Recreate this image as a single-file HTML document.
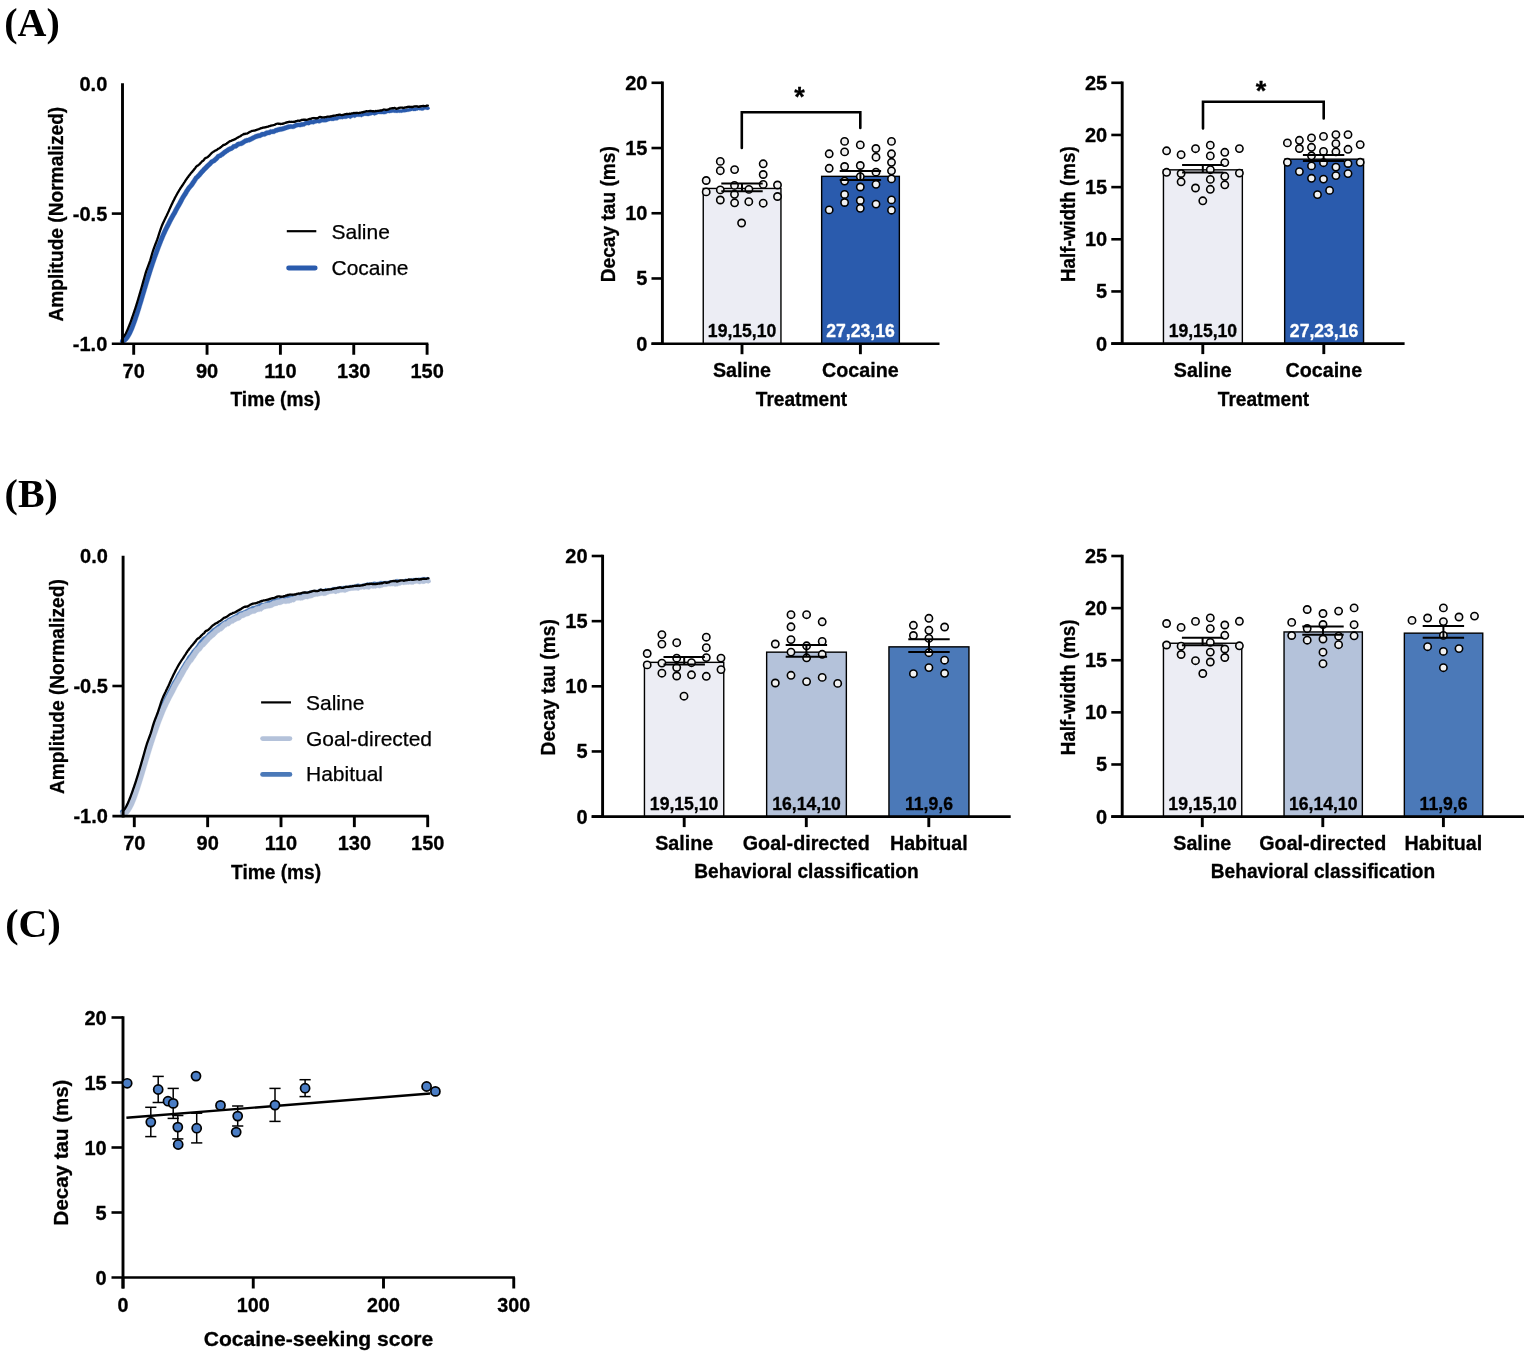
<!DOCTYPE html>
<html lang="en"><head><meta charset="utf-8"><title>Figure</title>
<style>html,body{margin:0;padding:0;background:#fff}svg{display:block;filter:blur(0.3px)}.b{font-family:"Liberation Sans",sans-serif;font-weight:bold}.r{font-family:"Liberation Sans",sans-serif;font-weight:normal}.s{font-family:"Liberation Serif",serif;font-weight:bold}</style></head><body>
<svg width="1535" height="1360" viewBox="0 0 1535 1360">
<rect width="1535" height="1360" fill="#fff"/>
<text class="s" x="4.3" y="36.2" font-size="40" text-anchor="start">(A)</text>
<text class="s" x="4.6" y="506.9" font-size="40" text-anchor="start">(B)</text>
<text class="s" x="5.2" y="937.3" font-size="40" text-anchor="start">(C)</text>
<path d="M123.11 343.41L123.8 343.24L124.48 342.98L125.15 342.62L125.9 342.12L126.62 341.53L127.29 340.87L127.94 340.15L128.57 339.36L129.19 338.5L129.79 337.58L130.38 336.6L130.97 335.55L131.55 334.44L132.12 333.27L132.69 332.05L133.26 330.76L133.82 329.43L134.38 328.04L134.94 326.61L135.5 325.12L136.06 323.59L136.62 322.02L137.17 320.42L137.73 318.78L138.28 317.11L138.84 315.42L139.39 313.7L139.94 311.95L140.49 310.19L141.05 308.41L141.6 306.61L142.15 304.8L142.7 302.98L143.25 301.15L143.8 299.31L144.35 297.46L144.9 295.61L145.45 293.76L146 291.91L146.55 290.06L147.1 288.22L147.65 286.38L148.2 284.55L148.75 282.73L149.3 280.93L149.85 279.15L150.39 277.38L150.94 275.63L151.49 273.9L152.04 272.18L152.59 270.49L153.13 268.81L153.68 267.14L154.23 265.5L154.78 263.87L155.32 262.26L155.87 260.67L156.42 259.09L156.97 257.53L157.51 255.97L158.06 254.43L158.61 252.91L159.16 251.41L159.7 249.94L160.25 248.48L160.79 247.05L161.34 245.64L161.88 244.24L162.43 242.88L162.97 241.53L163.52 240.21L164.06 238.89L164.61 237.62L165.15 236.34L165.69 235.12L166.24 233.92L166.78 232.78L167.32 231.56L167.87 230.47L168.41 229.32L168.96 228.27L169.5 227.19L170.05 226.13L170.59 225.07L171.14 223.96L171.68 222.86L172.23 221.8L172.78 220.76L173.33 219.83L173.87 218.77L174.42 217.82L174.97 216.83L175.52 215.78L176.06 214.94L176.61 213.98L177.16 212.93L177.71 211.84L178.26 210.78L178.8 209.78L179.35 208.87L179.9 207.79L180.45 206.88L180.99 205.88L181.54 204.96L182.09 203.91L182.64 202.93L183.18 201.9L183.73 200.79L184.28 199.78L184.82 198.86L185.37 197.88L185.92 197.06L186.46 196.28L187.01 195.51L187.55 194.55L188.09 193.69L188.63 192.57L189.18 191.75L189.72 191.11L190.26 190.12L190.8 189.48L191.34 188.66L191.88 187.99L192.43 187.61L192.97 187.02L193.51 186.29L194.05 185.4L194.59 184.63L195.14 183.78L195.68 183.11L196.22 182.28L196.76 181.34L197.3 180.52L197.85 179.54L198.39 179.02L198.93 178.7L199.47 178.17L200.02 177.49L200.56 177.08L201.1 176.47L201.64 175.65L202.18 175.21L202.71 174.42L203.25 173.88L203.79 173.16L204.33 172.76L204.86 172.13L205.4 171.54L205.94 170.88L206.48 170.48L207.01 169.8L207.55 169.42L208.09 168.95L208.63 168.15L209.16 167.73L209.7 167.23L210.24 166.71L210.78 166.33L211.32 165.87L211.86 165.18L212.39 164.5L212.93 164.08L213.47 163.41L214.01 163.29L214.55 162.99L215.09 162.77L215.63 162.47L216.17 161.81L216.71 161.51L217.25 161.01L217.79 160.57L218.33 160.03L218.87 159.26L219.41 158.39L219.95 158.1L220.49 157.96L221.03 157.8L221.58 157.5L222.12 157.26L222.66 156.58L223.21 156.51L223.75 156.04L224.29 155.58L224.83 155.23L225.38 154.78L225.92 154.06L226.46 153.91L227 153.55L227.54 153.02L228.08 152.87L228.62 152.48L229.16 151.99L229.69 151.85L230.23 151.28L230.77 151.17L231.3 150.91L231.84 150.66L232.37 150.59L232.91 150.26L233.45 149.74L233.98 149.58L234.52 148.85L235.06 148.51L235.6 148.5L236.14 148.43L236.68 148.19L237.22 147.93L237.76 147.42L238.31 147.07L238.85 146.54L239.39 146.24L239.93 146.21L240.47 145.94L241.02 145.85L241.56 145.92L242.1 145.46L242.64 145.42L243.19 145.18L243.73 144.74L244.27 144.46L244.81 144.12L245.36 143.78L245.9 143.23L246.44 143.03L246.98 142.9L247.53 142.73L248.07 142.5L248.61 142.28L249.15 142.35L249.7 142.37L250.24 141.97L250.78 141.75L251.32 141.42L251.87 141.16L252.41 141.04L252.95 140.56L253.5 140.39L254.04 140.06L254.58 139.8L255.12 139.65L255.67 139.07L256.21 139.05L256.76 138.64L257.3 138.6L257.85 138.48L258.39 138.27L258.94 138.05L259.48 138.12L260.03 137.78L260.58 137.89L261.12 137.6L261.67 137.3L262.22 137.07L262.76 136.7L263.31 136.47L263.85 136.39L264.4 136.4L264.95 136.52L265.49 136.29L266.04 135.94L266.58 135.81L267.12 135.14L267.67 135.2L268.21 135.06L268.76 135.08L269.3 135.08L269.85 134.85L270.39 134.64L270.93 134.19L271.48 133.94L272.02 133.71L272.57 133.96L273.11 134L273.66 133.86L274.2 133.85L274.75 133.72L275.29 133.27L275.84 132.97L276.38 132.79L276.93 132.57L277.47 132.53L278.02 132.21L278.56 132.03L279.11 132.04L279.65 131.7L280.2 131.76L280.74 131.57L281.29 131.39L281.83 131.43L282.38 131.16L282.92 131.22L283.47 131.07L284.01 130.77L284.56 130.67L285.1 130.58L285.65 130.29L286.2 130.07L286.74 129.9L287.29 129.73L287.83 129.5L288.38 129.41L288.92 129.01L289.47 129.02L290.02 129L290.56 128.85L291.11 128.82L291.65 128.72L292.2 129L292.75 128.78L293.29 128.83L293.84 128.87L294.39 128.41L294.93 128.47L295.48 127.96L296.03 127.68L296.57 127.51L297.12 127.22L297.67 127.14L298.22 127.02L298.76 127.08L299.31 127.06L299.86 127.2L300.41 127.09L300.95 127.15L301.5 126.85L302.05 126.67L302.6 126.68L303.14 126.45L303.69 126.45L304.24 126.6L304.79 126.13L305.33 125.82L305.88 125.51L306.43 125.2L306.97 125.11L307.52 125.1L308.07 125.19L308.62 125.21L309.16 125.09L309.71 124.91L310.26 124.5L310.8 124.2L311.35 124.2L311.9 124.02L312.45 124.12L312.99 124.44L313.54 124.23L314.09 124.14L314.63 123.69L315.18 123.61L315.73 123.55L316.28 123.26L316.82 123.29L317.37 123.12L317.92 123.03L318.47 123.33L319.01 123.21L319.56 123.34L320.11 123.29L320.66 122.86L321.2 122.71L321.75 122.3L322.3 122.13L322.85 122.14L323.39 122.33L323.94 122.36L324.49 122.32L325.04 122.19L325.58 122.18L326.13 122.23L326.68 121.94L327.23 121.69L327.77 121.73L328.32 121.15L328.87 121.24L329.42 121.05L329.97 121.03L330.51 120.64L331.06 120.71L331.61 121L332.16 120.83L332.7 120.98L333.25 121.02L333.8 120.74L334.35 120.51L334.9 120.47L335.44 120.15L335.99 120.46L336.54 120.35L337.09 120.14L337.64 120.31L338.18 119.79L338.73 119.59L339.28 119.33L339.83 119.04L340.38 119.18L340.92 119.04L341.47 119.11L342.02 119.31L342.57 119.14L343.12 118.9L343.67 118.82L344.21 118.84L344.76 118.66L345.31 118.85L345.86 118.79L346.41 118.71L346.96 118.46L347.5 118.24L348.05 117.93L348.6 117.94L349.15 118.18L349.7 118.45L350.25 118.71L350.79 118.67L351.34 118.26L351.89 117.83L352.44 117.63L352.99 117.23L353.54 117.35L354.08 117.73L354.63 117.81L355.18 117.61L355.73 117.38L356.28 117.07L356.83 116.84L357.38 116.68L357.93 116.67L358.48 116.81L359.03 116.81L359.58 116.77L360.13 116.83L360.67 116.86L361.22 117.12L361.77 117.13L362.32 116.6L362.87 116.5L363.42 116.23L363.97 116.04L364.52 115.76L365.07 115.88L365.62 115.69L366.17 115.69L366.72 115.91L367.27 116.01L367.81 116.09L368.36 116.1L368.91 115.92L369.46 115.69L370.01 115.38L370.56 115.46L371.11 115.31L371.66 115.15L372.21 114.89L372.75 114.7L373.3 114.97L373.85 115.16L374.4 115.55L374.95 115.5L375.5 115.05L376.05 115.01L376.6 114.7L377.15 114.45L377.7 114.2L378.24 114.04L378.79 113.91L379.34 114.08L379.89 114.07L380.44 113.94L380.99 114.19L381.54 114.09L382.09 114.06L382.64 114.07L383.19 114.19L383.74 114.1L384.29 114.14L384.84 113.93L385.38 114.11L385.93 113.83L386.48 113.8L387.03 113.3L387.58 113.1L388.13 113.03L388.67 112.99L389.22 113.04L389.77 113.19L390.32 112.87L390.86 112.93L391.41 112.75L391.96 112.64L392.51 112.47L393.06 112.55L393.61 112.58L394.15 112.7L394.7 112.68L395.25 112.7L395.8 112.85L396.35 112.79L396.9 112.88L397.45 112.86L398 112.71L398.55 112.6L399.1 112.72L399.65 112.81L400.2 112.58L400.75 112.72L401.3 112.69L401.85 112.67L402.4 112.51L402.95 112.28L403.5 112.19L404.05 112.39L404.6 112.18L405.15 112.06L405.7 112.31L406.25 111.98L406.8 111.92L407.35 111.82L407.9 111.69L408.45 111.74L409 111.48L409.55 111.4L410.1 111.27L410.65 111.29L411.2 110.88L411.75 110.95L412.3 110.76L412.85 110.84L413.4 111.08L413.95 111.08L414.5 110.94L415.05 110.97L415.6 110.93L416.15 110.68L416.71 110.49L417.26 110.48L417.81 110.41L418.36 110.02L418.91 110.04L419.46 110.32L420.01 110.36L420.56 110.15L421.11 110.39L421.66 110.52L422.21 110.5L422.76 110.61L423.31 110.46L423.86 110.09L424.41 109.8L424.96 109.47L425.51 109.57L426.06 109.47L426.61 109.72L427.16 109.73L427.71 109.74L428.26 109.81L427.94 106.53L427.39 106.45L426.84 106.44L426.29 106.44L425.74 106.19L425.19 106.29L424.64 106.19L424.09 106.52L423.54 106.8L422.99 107.18L422.44 107.33L421.89 107.21L421.34 107.24L420.79 107.1L420.24 106.87L419.69 107.07L419.14 107.03L418.59 106.75L418.04 106.74L417.49 107.12L416.94 107.2L416.39 107.21L415.85 107.4L415.3 107.65L414.75 107.69L414.2 107.66L413.65 107.79L413.1 107.8L412.55 107.56L412 107.47L411.45 107.66L410.9 107.59L410.35 108L409.8 107.98L409.25 108.11L408.7 108.2L408.15 108.45L407.6 108.41L407.05 108.54L406.5 108.63L405.95 108.69L405.4 109.02L404.85 108.78L404.3 108.9L403.75 109.1L403.2 108.9L402.65 109L402.1 109.22L401.55 109.39L401 109.4L400.45 109.43L399.9 109.3L399.35 109.52L398.8 109.44L398.25 109.32L397.7 109.43L397.15 109.58L396.6 109.6L396.05 109.5L395.5 109.56L394.95 109.42L394.4 109.4L393.85 109.41L393.29 109.3L392.74 109.26L392.19 109.19L391.64 109.35L391.09 109.47L390.54 109.64L389.98 109.59L389.43 109.9L388.88 109.75L388.33 109.69L387.77 109.73L387.22 109.78L386.67 109.98L386.12 110.47L385.57 110.49L385.02 110.76L384.46 110.58L383.91 110.79L383.36 110.74L382.81 110.83L382.26 110.7L381.71 110.67L381.16 110.71L380.61 110.79L380.06 110.54L379.51 110.66L378.96 110.67L378.41 110.49L377.86 110.61L377.3 110.76L376.75 111.01L376.2 111.25L375.65 111.55L375.1 111.59L374.55 112.02L374 112.08L373.45 111.67L372.9 111.48L372.35 111.2L371.79 111.39L371.24 111.63L370.69 111.79L370.14 111.94L369.59 111.84L369.04 112.15L368.49 112.38L367.94 112.55L367.39 112.53L366.83 112.45L366.28 112.33L365.73 112.11L365.18 112.11L364.63 112.28L364.08 112.16L363.53 112.43L362.98 112.61L362.43 112.88L361.88 112.97L361.33 113.49L360.78 113.48L360.23 113.21L359.67 113.17L359.12 113.1L358.57 113.14L358.02 113.13L357.47 112.99L356.92 112.99L356.37 113.14L355.82 113.37L355.27 113.67L354.72 113.89L354.17 114.08L353.62 114L353.06 113.61L352.51 113.49L351.96 113.87L351.41 114.07L350.86 114.49L350.31 114.9L349.75 114.94L349.2 114.66L348.65 114.39L348.1 114.14L347.55 114.13L347 114.43L346.44 114.64L345.89 114.89L345.34 114.96L344.79 115.01L344.24 114.81L343.69 114.99L343.13 114.96L342.58 115.03L342.03 115.27L341.48 115.43L340.93 115.23L340.38 115.15L339.82 115.28L339.27 115.13L338.72 115.42L338.17 115.68L337.62 115.87L337.06 116.38L336.51 116.21L335.96 116.41L335.41 116.51L334.86 116.19L334.3 116.51L333.75 116.54L333.2 116.77L332.65 117.04L332.1 116.99L331.54 116.84L330.99 117L330.44 116.71L329.89 116.63L329.33 117.01L328.78 117.02L328.23 117.21L327.68 117.11L327.13 117.68L326.57 117.64L326.02 117.88L325.47 118.17L324.92 118.11L324.36 118.12L323.81 118.24L323.26 118.27L322.71 118.23L322.15 118.04L321.6 118.03L321.05 118.19L320.5 118.59L319.94 118.73L319.39 119.16L318.84 119.2L318.29 119.07L317.73 119.18L317.18 118.87L316.63 118.96L316.08 119.13L315.52 119.08L314.97 119.37L314.42 119.42L313.87 119.5L313.31 119.93L312.76 120.02L312.21 120.23L311.65 119.9L311.1 119.8L310.55 119.97L310 119.96L309.44 120.26L308.89 120.66L308.34 120.84L307.78 120.94L307.23 120.92L306.68 120.83L306.13 120.83L305.57 120.92L305.02 121.22L304.47 121.52L303.91 121.82L303.36 122.29L302.81 122.13L302.26 122.13L301.7 122.36L301.15 122.33L300.6 122.51L300.05 122.8L299.49 122.74L298.94 122.85L298.39 122.7L297.84 122.71L297.28 122.64L296.73 122.75L296.18 122.84L295.63 123.11L295.07 123.28L294.52 123.55L293.97 124.05L293.41 123.99L292.86 124.45L292.31 124.4L291.75 124.35L291.2 124.56L290.65 124.28L290.09 124.37L289.54 124.39L288.98 124.53L288.43 124.55L287.88 124.54L287.32 124.93L286.77 125.01L286.21 125.24L285.66 125.4L285.1 125.57L284.55 125.78L284 126.07L283.44 126.16L282.89 126.25L282.33 126.55L281.78 126.69L281.22 126.63L280.67 126.89L280.11 126.85L279.56 127.03L279 127.21L278.45 127.16L277.89 127.5L277.34 127.49L276.78 127.68L276.23 127.99L275.67 128.04L275.12 128.27L274.56 128.44L274.01 128.75L273.45 129.2L272.9 129.33L272.34 129.35L271.79 129.49L271.23 129.45L270.68 129.21L270.12 129.44L269.57 129.69L269.01 130.14L268.45 130.36L267.9 130.59L267.34 130.59L266.79 130.58L266.23 130.72L265.68 130.67L265.12 131.34L264.56 131.47L264.01 131.83L263.45 132.06L262.9 131.95L262.35 131.94L261.79 132.02L261.24 132.26L260.68 132.62L260.13 132.86L259.58 133.16L259.02 133.45L258.47 133.35L257.92 133.69L257.36 133.62L256.81 133.84L256.25 134.06L255.7 134.18L255.14 134.23L254.59 134.64L254.03 134.66L253.48 135.24L252.92 135.4L252.36 135.67L251.8 136.01L251.25 136.18L250.69 136.66L250.13 136.8L249.58 137.06L249.02 137.39L248.46 137.62L247.9 138.03L247.35 138.01L246.79 137.95L246.23 138.18L245.67 138.41L245.12 138.59L244.56 138.72L244 138.92L243.44 139.48L242.89 139.84L242.33 140.18L241.77 140.47L241.21 140.92L240.66 141.16L240.1 141.21L239.54 141.67L238.98 141.62L238.43 141.71L237.87 141.99L237.31 142.02L236.75 142.33L236.19 142.87L235.64 143.23L235.08 143.75L234.52 144.01L233.96 144.27L233.4 144.34L232.84 144.37L232.28 144.72L231.72 145.47L231.15 145.64L230.59 146.17L230.03 146.52L229.46 146.61L228.9 146.87L228.33 147.14L227.77 147.27L227.21 147.86L226.64 148.01L226.08 148.52L225.52 148.93L224.96 149.09L224.4 149.64L223.84 150.01L223.28 150.17L222.72 150.9L222.17 151.36L221.61 151.72L221.05 152.19L220.49 152.67L219.94 152.75L219.38 153.44L218.82 153.69L218.27 154L217.71 154.18L217.15 154.32L216.59 154.63L216.03 155.51L215.47 156.29L214.91 156.85L214.35 157.3L213.79 157.82L213.23 158.14L212.67 158.81L212.11 159.13L211.55 159.37L210.99 159.68L210.43 159.83L209.87 160.51L209.31 160.96L208.74 161.66L208.18 162.37L207.62 162.85L207.06 163.25L206.5 163.79L205.94 164.32L205.37 164.76L204.81 165.59L204.25 166.08L203.69 166.48L203.12 167.19L202.56 167.61L202 168.29L201.44 168.91L200.87 169.58L200.31 170L199.75 170.75L199.19 171.32L198.62 172.14L198.06 172.59L197.5 173.45L196.94 174.08L196.38 174.5L195.83 175.21L195.27 175.75L194.71 176.09L194.15 176.63L193.6 177.64L193.04 178.47L192.48 179.44L191.92 180.29L191.36 180.98L190.81 181.85L190.25 182.64L189.69 183.55L189.13 184.3L188.57 184.92L188.02 185.32L187.46 186.02L186.9 186.86L186.34 187.53L185.78 188.54L185.22 189.21L184.67 190.06L184.11 191.2L183.55 192.08L182.99 193.06L182.44 193.85L181.88 194.65L181.33 195.48L180.78 196.48L180.22 197.41L179.67 198.42L179.12 199.54L178.56 200.58L178.01 201.57L177.46 202.63L176.91 203.56L176.35 204.57L175.8 205.49L175.25 206.57L174.7 207.49L174.14 208.5L173.59 209.57L173.04 210.67L172.49 211.73L171.94 212.7L171.38 213.55L170.83 214.6L170.28 215.61L169.73 216.56L169.17 217.62L168.62 218.57L168.07 219.62L167.52 220.69L166.96 221.8L166.41 222.94L165.85 224.01L165.3 225.09L164.74 226.19L164.19 227.26L163.63 228.44L163.08 229.54L162.52 230.79L161.96 231.96L161.41 233.19L160.85 234.44L160.29 235.75L159.74 237.05L159.18 238.4L158.63 239.75L158.07 241.12L157.52 242.51L156.96 243.93L156.41 245.37L155.85 246.82L155.3 248.29L154.74 249.79L154.19 251.31L153.64 252.85L153.09 254.4L152.53 255.97L151.98 257.54L151.43 259.13L150.88 260.74L150.32 262.37L149.77 264.01L149.22 265.67L148.67 267.34L148.11 269.04L147.56 270.75L147.01 272.47L146.46 274.22L145.91 275.98L145.35 277.76L144.8 279.55L144.25 281.37L143.7 283.19L143.15 285.03L142.6 286.87L142.05 288.72L141.5 290.57L140.95 292.42L140.4 294.27L139.85 296.12L139.3 297.96L138.75 299.8L138.2 301.62L137.65 303.44L137.1 305.24L136.55 307.02L136.01 308.79L135.46 310.54L134.91 312.26L134.36 313.96L133.82 315.64L133.27 317.28L132.73 318.89L132.18 320.46L131.64 322L131.1 323.48L130.56 324.92L130.02 326.3L129.48 327.63L128.94 328.89L128.41 330.1L127.88 331.24L127.35 332.31L126.83 333.31L126.32 334.24L125.81 335.08L125.31 335.85L124.83 336.53L124.36 337.12L123.91 337.61L123.48 338.02L123.1 338.35L122.75 338.58L122.32 338.81L121.9 338.95L121.49 339Z" fill="#2a5bad" stroke="#2a5bad" stroke-width="0.3" stroke-linejoin="round"/>
<circle cx="122.3" cy="341.21" r="2.35" fill="#2a5bad"/>
<circle cx="428.1" cy="108.17" r="1.65" fill="#2a5bad"/>
<path d="M122.6 337.79L123.15 337.3L123.7 336.69L124.25 335.97L124.8 335.15L125.35 334.22L125.9 333.19L126.45 332.08L127 330.89L127.55 329.66L128.1 328.37L128.65 327.04L129.2 325.67L129.75 324.25L130.3 322.8L130.85 321.31L131.4 319.79L131.95 318.25L132.5 316.68L133.05 315.09L133.6 313.49L134.15 311.87L134.7 310.23L135.25 308.55L135.8 306.84L136.35 305.09L136.9 303.33L137.45 301.53L138 299.72L138.55 297.88L139.1 296.03L139.65 294.16L140.2 292.27L140.75 290.38L141.3 288.46L141.85 286.53L142.4 284.59L142.95 282.64L143.5 280.68L144.05 278.71L144.6 276.74L145.15 274.8L145.7 272.93L146.25 271.17L146.8 269.55L147.35 268.03L147.9 266.58L148.45 265.15L149 263.7L149.55 262.18L150.1 260.56L150.65 258.79L151.2 256.9L151.75 254.95L152.3 253.05L152.85 251.26L153.4 249.61L153.95 248.06L154.5 246.59L155.05 245.17L155.6 243.78L156.15 242.38L156.7 240.93L157.25 239.43L157.8 237.82L158.35 236.15L158.9 234.44L159.45 232.71L160 231.01L160.55 229.38L161.1 227.83L161.65 226.37L162.2 225.05L162.75 223.77L163.3 222.54L163.85 221.39L164.4 220.2L164.95 219.09L165.5 217.9L166.05 216.76L166.6 215.67L167.15 214.45L167.7 213.35L168.25 212.14L168.8 210.93L169.35 209.64L169.9 208.4L170.45 207.17L171 206.05L171.55 204.83L172.1 203.7L172.65 202.55L173.2 201.34L173.75 200.32L174.3 199.18L174.85 198.09L175.4 196.99L175.95 196.04L176.5 194.96L177.05 193.95L177.6 192.92L178.15 192.05L178.7 191.18L179.25 190.21L179.8 189.38L180.35 188.45L180.9 187.58L181.45 186.78L182 186.09L182.55 185.18L183.1 184.45L183.65 183.49L184.2 182.57L184.75 181.83L185.3 180.99L185.85 179.94L186.4 179.34L186.95 178.4L187.5 177.64L188.05 177.12L188.6 176.11L189.15 175.43L189.7 174.94L190.25 174.07L190.8 173.33L191.35 172.72L191.9 172.12L192.45 171.63L193 170.7L193.55 170.28L194.1 169.4L194.65 168.91L195.2 168.19L195.75 167.28L196.3 166.59L196.85 166.14L197.4 165.67L197.95 165.53L198.5 165L199.05 164.53L199.6 164.24L200.15 163.38L200.7 162.87L201.25 162.26L201.8 161.72L202.35 161.14L202.9 160.96L203.45 160.43L204 159.8L204.55 158.88L205.1 158.3L205.65 158L206.2 157.89L206.75 157.51L207.3 157.34L207.85 156.99L208.4 156.36L208.95 155.97L209.5 155.41L210.05 154.83L210.6 154.12L211.15 153.54L211.7 153.14L212.25 152.44L212.8 152.15L213.35 151.8L213.9 151.56L214.45 151.05L215 150.74L215.55 150.46L216.1 150.18L216.65 150.04L217.2 149.67L217.75 149.08L218.3 148.72L218.85 148.45L219.4 148.16L219.95 147.87L220.5 147.46L221.05 146.99L221.6 146.56L222.15 146L222.7 145.67L223.25 145.13L223.8 144.91L224.35 144.89L224.9 144.56L225.45 144.44L226 143.96L226.55 143.72L227.1 143.11L227.65 142.83L228.2 142.51L228.75 141.84L229.3 141.73L229.85 141.13L230.4 141.12L230.95 140.98L231.5 140.71L232.05 140.32L232.6 140.04L233.15 139.99L233.7 139.93L234.25 139.47L234.8 139.39L235.35 138.84L235.9 138.82L236.45 138.19L237 137.92L237.55 137.76L238.1 137.36L238.65 137.09L239.2 136.83L239.75 136.57L240.3 136.32L240.85 135.83L241.4 135.5L241.95 135L242.5 134.78L243.05 134.46L243.6 134.14L244.15 133.9L244.7 134.05L245.25 133.87L245.8 133.72L246.35 133.65L246.9 133.7L247.45 133.38L248 133.02L248.55 132.67L249.1 132.32L249.65 131.93L250.2 131.86L250.75 131.5L251.3 131.28L251.85 130.91L252.4 130.92L252.95 130.76L253.5 130.67L254.05 130.6L254.6 130.65L255.15 130.36L255.7 130.21L256.25 130.12L256.8 129.8L257.35 129.53L257.9 129.52L258.45 129.29L259 129.08L259.55 128.75L260.1 128.57L260.65 128.38L261.2 128.07L261.75 128.02L262.3 127.87L262.85 127.64L263.4 127.58L263.95 127.5L264.5 127.49L265.05 127.4L265.6 127.11L266.15 127.17L266.7 126.9L267.25 126.78L267.8 126.71L268.35 126.63L268.9 126.16L269.45 126.18L270 126.05L270.55 125.68L271.1 125.65L271.65 125.56L272.2 125.3L272.75 125.31L273.3 125.23L273.85 125.01L274.4 124.84L274.95 124.6L275.5 124.36L276.05 124.04L276.6 123.79L277.15 123.7L277.7 123.58L278.25 123.68L278.8 123.83L279.35 123.67L279.9 123.97L280.45 124.02L281 123.87L281.55 123.91L282.1 123.76L282.65 123.85L283.2 123.39L283.75 123.5L284.3 123.23L284.85 122.97L285.4 122.69L285.95 122.76L286.5 122.62L287.05 122.17L287.6 122.24L288.15 122.1L288.7 121.87L289.25 121.81L289.8 121.72L290.35 121.9L290.9 121.92L291.45 121.75L292 121.95L292.55 121.87L293.1 121.84L293.65 121.86L294.2 121.64L294.75 121.76L295.3 121.64L295.85 121.19L296.4 121.21L296.95 120.99L297.5 120.74L298.05 120.72L298.6 120.72L299.15 120.9L299.7 120.65L300.25 120.6L300.8 120.41L301.35 119.99L301.9 119.93L302.45 119.77L303 119.85L303.55 119.63L304.1 119.65L304.65 119.76L305.2 119.71L305.75 119.86L306.3 119.79L306.85 119.87L307.4 119.71L307.95 119.52L308.5 119.39L309.05 119.08L309.6 118.94L310.15 118.95L310.7 118.8L311.25 118.6L311.8 118.4L312.35 118.23L312.9 118.03L313.45 118.2L314 117.97L314.55 118.19L315.1 118.13L315.65 118.3L316.2 118.27L316.75 118.39L317.3 118.14L317.85 118.13L318.4 117.8L318.95 117.35L319.5 117.06L320.05 116.88L320.6 117.1L321.15 117.07L321.7 117.39L322.25 117.45L322.8 117.34L323.35 117.31L323.9 117.38L324.45 117.29L325 117.17L325.55 117.17L326.1 117.03L326.65 116.89L327.2 116.71L327.75 116.69L328.3 116.69L328.85 116.71L329.4 116.64L329.95 116.48L330.5 116.6L331.05 116.32L331.6 116.29L332.15 115.99L332.7 115.96L333.25 115.93L333.8 115.64L334.35 115.54L334.9 115.64L335.45 115.53L336 115.37L336.55 115.14L337.1 115.17L337.65 115.04L338.2 114.86L338.75 114.84L339.3 114.57L339.85 114.61L340.4 114.84L340.95 114.97L341.5 115.05L342.05 115.17L342.6 114.98L343.15 114.83L343.7 114.67L344.25 114.43L344.8 114.33L345.35 114.16L345.9 114.09L346.45 113.95L347 114L347.55 114L348.1 114.04L348.65 113.95L349.2 113.79L349.75 113.69L350.3 113.78L350.85 113.75L351.4 113.54L351.95 113.3L352.5 113.43L353.05 113.22L353.6 113.15L354.15 112.94L354.7 113.03L355.25 113.07L355.8 112.95L356.35 112.92L356.9 113.02L357.45 112.78L358 112.91L358.55 113.02L359.1 112.89L359.65 112.74L360.2 112.77L360.75 112.67L361.3 112.47L361.85 112.38L362.4 112.5L362.95 112.18L363.5 112L364.05 112.11L364.6 111.81L365.15 111.56L365.7 111.42L366.25 111.39L366.8 111.18L367.35 111.35L367.9 111.36L368.45 111.36L369 111.08L369.55 111.12L370.1 110.91L370.65 111.01L371.2 110.93L371.75 111.2L372.3 111.28L372.85 111.13L373.4 111.12L373.95 111.39L374.5 111.32L375.05 111.34L375.6 110.98L376.15 111.2L376.7 111.02L377.25 110.84L377.8 110.82L378.35 110.87L378.9 110.82L379.45 110.55L380 110.64L380.55 110.43L381.1 110.65L381.65 110.34L382.2 110.27L382.75 109.98L383.3 109.71L383.85 109.52L384.4 109.72L384.95 109.7L385.5 109.82L386.05 110.03L386.6 109.8L387.15 109.83L387.7 109.54L388.25 109.54L388.8 109.31L389.35 108.93L389.9 108.63L390.45 108.56L391 108.52L391.55 108.3L392.1 108.26L392.65 108.14L393.2 108.27L393.75 108.32L394.3 108.02L394.85 108L395.4 108.4L395.95 108.6L396.5 108.82L397.05 108.69L397.6 108.39L398.15 108.36L398.7 107.9L399.25 107.95L399.8 107.64L400.35 107.65L400.9 107.59L401.45 107.55L402 107.57L402.55 107.7L403.1 108L403.65 107.87L404.2 107.78L404.75 107.52L405.3 107.56L405.85 107.29L406.4 107.25L406.95 107.23L407.5 107.13L408.05 106.72L408.6 106.96L409.15 106.96L409.7 106.75L410.25 106.79L410.8 106.93L411.35 107.11L411.9 106.99L412.45 107.13L413 106.93L413.55 106.57L414.1 106.69L414.65 106.29L415.2 106.32L415.75 106.49L416.3 106.27L416.85 106.42L417.4 106.42L417.95 106.63L418.5 106.85L419.05 106.87L419.6 106.45L420.15 106.35L420.7 106.51L421.25 106.13L421.8 106.14L422.35 106.01L422.9 105.92L423.45 105.87L424 106.09L424.55 106.14L425.1 106.13L425.65 106.12L426.2 105.9L426.75 105.64L427.3 105.56L427.85 105.63" fill="none" stroke="#000" stroke-width="2.3" stroke-linejoin="round" stroke-linecap="round"/>
<line x1="122.5" y1="83.3" x2="122.5" y2="345.05" stroke="#000" stroke-width="2.9" stroke-linecap="butt"/>
<line x1="111.8" y1="343.75" x2="428.3" y2="343.75" stroke="#000" stroke-width="2.6" stroke-linecap="butt"/>
<line x1="111.8" y1="213.6" x2="122.5" y2="213.6" stroke="#000" stroke-width="2.6" stroke-linecap="butt"/>
<line x1="133.7" y1="343.75" x2="133.7" y2="354.75" stroke="#000" stroke-width="2.9" stroke-linecap="butt"/>
<text class="b" x="133.7" y="377.95" font-size="20" text-anchor="middle" stroke="#000" stroke-width="0.3" stroke-linejoin="round">70</text>
<line x1="207.05" y1="343.75" x2="207.05" y2="354.75" stroke="#000" stroke-width="2.9" stroke-linecap="butt"/>
<text class="b" x="207.05" y="377.95" font-size="20" text-anchor="middle" stroke="#000" stroke-width="0.3" stroke-linejoin="round">90</text>
<line x1="280.4" y1="343.75" x2="280.4" y2="354.75" stroke="#000" stroke-width="2.9" stroke-linecap="butt"/>
<text class="b" x="280.4" y="377.95" font-size="20" text-anchor="middle" stroke="#000" stroke-width="0.3" stroke-linejoin="round">110</text>
<line x1="353.75" y1="343.75" x2="353.75" y2="354.75" stroke="#000" stroke-width="2.9" stroke-linecap="butt"/>
<text class="b" x="353.75" y="377.95" font-size="20" text-anchor="middle" stroke="#000" stroke-width="0.3" stroke-linejoin="round">130</text>
<line x1="427.1" y1="343.75" x2="427.1" y2="354.75" stroke="#000" stroke-width="2.9" stroke-linecap="butt"/>
<text class="b" x="427.1" y="377.95" font-size="20" text-anchor="middle" stroke="#000" stroke-width="0.3" stroke-linejoin="round">150</text>
<text class="b" x="107.3" y="90.9" font-size="20" text-anchor="end" stroke="#000" stroke-width="0.3" stroke-linejoin="round">0.0</text>
<text class="b" x="107.3" y="220.8" font-size="20" text-anchor="end" stroke="#000" stroke-width="0.3" stroke-linejoin="round">-0.5</text>
<text class="b" x="107.3" y="350.95" font-size="20" text-anchor="end" stroke="#000" stroke-width="0.3" stroke-linejoin="round">-1.0</text>
<text class="b" x="275.5" y="406.35" font-size="20" text-anchor="middle" stroke="#000" stroke-width="0.3" stroke-linejoin="round" textLength="90.06" lengthAdjust="spacingAndGlyphs">Time (ms)</text>
<text class="b" x="63.4" y="214.2" font-size="20" text-anchor="middle" stroke="#000" stroke-width="0.3" stroke-linejoin="round" transform="rotate(-90 63.4 214.2)" textLength="214.8" lengthAdjust="spacingAndGlyphs">Amplitude (Normalized)</text>
<line x1="286.8" y1="231.2" x2="316.3" y2="231.2" stroke="#000" stroke-width="2.2" stroke-linecap="butt"/>
<text class="r" x="331.5" y="238.8" font-size="21" text-anchor="start" stroke="#000" stroke-width="0.25" stroke-linejoin="round">Saline</text>
<line x1="288.6" y1="268" x2="315.2" y2="268" stroke="#2a5bad" stroke-width="4.8" stroke-linecap="round"/>
<text class="r" x="331.5" y="275.4" font-size="21" text-anchor="start" stroke="#000" stroke-width="0.25" stroke-linejoin="round">Cocaine</text>
<g transform="translate(0.6 0)">
<path d="M122.15 813.97L122.84 813.8L123.51 813.54L124.17 813.19L124.91 812.7L125.62 812.12L126.28 811.47L126.93 810.76L127.55 809.97L128.16 809.12L128.76 808.2L129.35 807.22L129.94 806.18L130.51 805.07L131.08 803.91L131.65 802.68L132.22 801.4L132.78 800.07L133.34 798.69L133.9 797.25L134.46 795.77L135.02 794.24L135.58 792.67L136.13 791.07L136.69 789.43L137.24 787.76L137.79 786.07L138.35 784.35L138.9 782.61L139.45 780.85L140 779.07L140.55 777.27L141.1 775.46L141.66 773.64L142.21 771.8L142.76 769.96L143.31 768.12L143.86 766.27L144.41 764.42L144.96 762.57L145.51 760.72L146.06 758.87L146.61 757.04L147.16 755.21L147.71 753.39L148.25 751.59L148.8 749.8L149.35 748.03L149.9 746.29L150.45 744.55L150.99 742.84L151.54 741.14L152.09 739.46L152.64 737.8L153.19 736.15L153.73 734.52L154.28 732.91L154.83 731.32L155.38 729.74L155.93 728.18L156.47 726.62L157.02 725.08L157.57 723.56L158.11 722.06L158.66 720.58L159.21 719.13L159.75 717.7L160.3 716.29L160.84 714.9L161.39 713.56L161.94 712.21L162.48 710.9L163.02 709.62L163.57 708.35L164.11 707.1L164.66 705.9L165.2 704.66L165.74 703.44L166.29 702.23L166.83 701.13L167.38 700.02L167.92 698.98L168.47 697.9L169.01 696.83L169.56 695.79L170.11 694.74L170.65 693.6L171.2 692.61L171.75 691.56L172.29 690.48L172.84 689.41L173.39 688.24L173.94 687.27L174.49 686.25L175.03 685.06L175.58 684.12L176.13 683.23L176.68 682.4L177.22 681.52L177.77 680.59L178.32 679.61L178.87 678.42L179.42 677.39L179.96 676.42L180.51 675.5L181.06 674.57L181.61 673.87L182.15 672.94L182.7 671.86L183.25 671.06L183.79 670.12L184.34 669.21L184.89 668.27L185.43 667.4L185.98 666.46L186.52 665.51L187.07 664.65L187.61 663.88L188.15 663.02L188.69 662.29L189.24 661.38L189.78 660.33L190.32 659.29L190.86 658.5L191.4 657.89L191.95 657.32L192.49 656.73L193.03 655.87L193.57 655.17L194.12 654.27L194.66 653.37L195.2 652.64L195.74 652.12L196.29 651.64L196.83 650.99L197.37 650.47L197.91 649.7L198.46 648.93L199 648.35L199.54 647.64L200.08 646.54L200.62 645.79L201.16 644.93L201.7 644.35L202.24 643.78L202.78 642.99L203.32 642.6L203.85 642L204.39 641.27L204.93 640.81L205.47 640.16L206.01 639.97L206.55 639.61L207.08 639.38L207.62 639.05L208.16 638.54L208.7 637.9L209.24 637.19L209.78 636.38L210.32 636L210.86 635.38L211.4 635.01L211.93 634.82L212.47 634.09L213.01 633.55L213.55 633.01L214.09 632.74L214.63 632.04L215.17 631.61L215.71 631.53L216.25 630.91L216.79 630.76L217.34 630.25L217.88 629.86L218.42 629.46L218.96 628.9L219.5 628.57L220.05 627.89L220.59 627.75L221.13 627.29L221.68 627.04L222.22 626.52L222.76 626.43L223.31 626.15L223.85 625.47L224.39 625.19L224.93 624.9L225.48 624.67L226.02 624.2L226.56 623.91L227.1 623.68L227.64 623.48L228.18 623.12L228.71 622.59L229.25 622.19L229.79 621.87L230.33 621.6L230.86 621.38L231.4 621.02L231.94 620.89L232.47 620.73L233.01 620.22L233.55 620.02L234.09 619.53L234.63 619.47L235.17 619.25L235.71 618.98L236.25 618.63L236.8 618.24L237.34 617.93L237.88 617.65L238.42 617L238.97 616.56L239.51 616.38L240.05 616.02L240.59 615.64L241.14 615.56L241.68 615.61L242.22 615.38L242.77 615.29L243.31 615.05L243.85 614.97L244.39 614.66L244.94 614.4L245.48 614.3L246.02 614.14L246.57 613.66L247.11 613.52L247.65 613.08L248.2 612.91L248.74 612.49L249.28 612.12L249.83 611.93L250.37 611.68L250.91 611.67L251.45 611.38L252 610.94L252.54 610.65L253.08 610.28L253.63 610.23L254.17 609.99L254.72 610.27L255.26 610.07L255.8 609.98L256.35 609.66L256.9 609.52L257.44 609.24L257.99 608.87L258.53 608.56L259.08 608.37L259.63 608.14L260.17 607.71L260.72 607.57L261.27 607.4L261.81 606.97L262.36 606.77L262.91 606.82L263.45 607.04L264 607.08L264.54 607.14L265.09 606.97L265.63 606.61L266.18 606.46L266.72 606.21L267.27 605.74L267.81 605.48L268.36 605.1L268.9 604.89L269.45 604.71L269.99 604.97L270.54 604.82L271.08 604.76L271.63 604.59L272.17 604.09L272.72 603.81L273.26 603.82L273.81 603.39L274.35 603.18L274.9 603.03L275.44 602.89L275.99 602.55L276.53 602.55L277.08 602.48L277.62 602.44L278.17 602.34L278.72 602.46L279.26 602.59L279.81 602.34L280.35 602.28L280.9 602.02L281.44 601.96L281.99 601.86L282.53 601.28L283.08 601.16L283.62 600.79L284.17 600.31L284.72 600.64L285.26 600.47L285.81 600.65L286.35 600.52L286.9 600.06L287.45 599.89L287.99 599.58L288.54 599.5L289.08 599.39L289.63 599.63L290.18 599.77L290.72 599.6L291.27 599.31L291.82 598.92L292.36 598.82L292.91 598.66L293.46 598.82L294 598.85L294.55 598.85L295.1 598.7L295.65 598.77L296.19 598.68L296.74 598.43L297.29 598.51L297.84 598.17L298.38 597.72L298.93 597.74L299.48 597.34L300.03 597.43L300.58 597.6L301.12 597.59L301.67 597.44L302.22 597.16L302.77 596.77L303.32 596.4L303.86 596.09L304.41 595.87L304.96 595.92L305.5 595.75L306.05 595.6L306.6 595.71L307.15 595.62L307.69 595.64L308.24 595.58L308.79 595.47L309.34 594.9L309.88 594.79L310.43 594.52L310.98 594.65L311.53 594.44L312.07 594.38L312.62 594.36L313.17 594.36L313.72 594.4L314.26 594.22L314.81 594.35L315.36 594.05L315.91 594.06L316.45 593.96L317 593.84L317.55 593.84L318.1 593.59L318.64 593.16L319.19 592.98L319.74 592.93L320.29 592.91L320.83 592.8L321.38 592.78L321.93 592.87L322.48 592.87L323.03 593.11L323.57 593L324.12 592.86L324.67 592.62L325.22 592.23L325.77 592.15L326.31 592.44L326.86 592.28L327.41 592.65L327.96 592.69L328.5 592.6L329.05 592.29L329.6 592.25L330.15 592.09L330.7 591.86L331.24 591.74L331.79 591.4L332.34 591.1L332.89 591.24L333.44 591.05L333.99 591.03L334.53 591.01L335.08 590.69L335.63 590.89L336.18 590.79L336.73 590.67L337.27 590.64L337.82 590.57L338.37 590.43L338.92 590.48L339.47 590.21L340.02 590.28L340.56 590.24L341.11 590.08L341.66 590.03L342.21 590.08L342.76 589.96L343.31 589.62L343.85 589.79L344.4 589.67L344.95 589.41L345.5 589.5L346.05 589.47L346.6 589.44L347.14 589.62L347.69 589.68L348.24 589.26L348.79 589.25L349.34 588.98L349.89 588.63L350.44 588.79L350.98 588.6L351.53 588.62L352.08 588.5L352.63 588.52L353.18 588.4L353.73 588.58L354.28 588.53L354.82 588.29L355.37 587.93L355.92 587.83L356.47 587.59L357.02 587.41L357.57 587.33L358.12 587.29L358.67 587.37L359.22 587.48L359.77 587.73L360.32 587.93L360.87 587.86L361.42 587.61L361.97 587.48L362.52 587.16L363.07 587.07L363.62 587.11L364.17 586.92L364.71 586.79L365.26 586.9L365.81 586.61L366.36 586.25L366.91 586.03L367.46 585.98L368.01 586.06L368.56 585.98L369.11 585.95L369.66 586.04L370.2 586.23L370.75 585.98L371.3 586.08L371.85 585.87L372.4 585.64L372.95 585.39L373.5 585.24L374.05 585.08L374.6 585.15L375.15 585.29L375.7 585.42L376.24 585.56L376.79 585.35L377.34 585.28L377.89 585.37L378.44 585.21L378.99 585.08L379.54 584.62L380.09 584.51L380.64 584.42L381.19 584.4L381.74 584.83L382.29 584.68L382.84 584.64L383.39 584.66L383.93 584.44L384.48 584.49L385.03 584.33L385.58 584.25L386.13 584.23L386.68 584.47L387.22 584.24L387.77 584.26L388.32 583.99L388.87 584L389.42 583.71L389.96 583.75L390.51 583.8L391.06 584.05L391.61 583.99L392.16 583.85L392.71 583.72L393.25 583.88L393.8 583.84L394.35 583.44L394.9 582.97L395.45 582.72L396 582.58L396.55 582.56L397.1 582.48L397.65 582.44L398.2 582.69L398.75 582.91L399.3 582.8L399.85 583.2L400.4 583.12L400.95 583.26L401.5 583.34L402.05 583.38L402.6 582.96L403.15 582.8L403.7 582.64L404.25 582.49L404.8 582.06L405.35 582.14L405.9 582.34L406.45 582.1L407 582.19L407.55 582.16L408.1 582.27L408.65 582.35L409.2 582.02L409.75 582.09L410.3 581.95L410.85 581.85L411.4 581.67L411.95 581.76L412.5 581.52L413.05 581.5L413.6 581.39L414.15 581.51L414.7 581.34L415.25 581.2L415.81 581.11L416.36 581.27L416.91 581.19L417.46 581.19L418.01 581.07L418.56 581.12L419.11 581.02L419.66 581.23L420.21 580.93L420.76 580.94L421.31 580.91L421.86 580.74L422.41 580.44L422.96 580.46L423.51 580.64L424.06 580.54L424.61 580.64L425.16 580.7L425.71 580.61L426.26 580.84L426.81 580.69L427.36 580.27L427.04 576.99L426.49 577.4L425.94 577.55L425.39 577.33L424.84 577.41L424.29 577.35L423.74 577.26L423.19 577.36L422.64 577.18L422.09 577.16L421.54 577.45L420.99 577.62L420.44 577.66L419.89 577.64L419.34 577.94L418.79 577.73L418.24 577.83L417.69 577.78L417.14 577.91L416.59 577.91L416.04 577.98L415.49 577.83L414.95 577.91L414.4 578.05L413.85 578.23L413.3 578.1L412.75 578.22L412.2 578.24L411.65 578.47L411.1 578.38L410.55 578.57L410 578.67L409.45 578.8L408.9 578.73L408.35 579.06L407.8 578.99L407.25 578.88L406.7 578.91L406.15 578.81L405.6 579.06L405.05 578.85L404.5 578.77L403.95 579.21L403.4 579.35L402.85 579.51L402.3 579.68L401.75 580.1L401.2 580.05L400.65 579.98L400.1 579.83L399.55 579.92L399 579.51L398.45 579.63L397.9 579.41L397.35 579.16L396.8 579.19L396.25 579.28L395.7 579.29L395.15 579.43L394.6 579.69L394.05 580.16L393.5 580.55L392.95 580.59L392.39 580.43L391.84 580.56L391.29 580.71L390.74 580.76L390.19 580.52L389.64 580.46L389.08 580.43L388.53 580.71L387.98 580.7L387.43 580.96L386.88 580.94L386.32 581.16L385.77 580.92L385.22 580.94L384.67 581.01L384.12 581.16L383.57 581.11L383.01 581.32L382.46 581.29L381.91 581.33L381.36 581.48L380.81 581.04L380.26 581.06L379.71 581.14L379.16 581.24L378.61 581.7L378.06 581.83L377.51 581.97L376.96 581.88L376.41 581.95L375.86 582.15L375.3 582L374.75 581.87L374.2 581.72L373.65 581.65L373.1 581.81L372.55 581.95L372 582.19L371.45 582.42L370.9 582.62L370.35 582.52L369.8 582.76L369.24 582.57L368.69 582.48L368.14 582.5L367.59 582.57L367.04 582.49L366.49 582.53L365.94 582.75L365.39 583.1L364.84 583.38L364.29 583.27L363.73 583.4L363.18 583.58L362.63 583.53L362.08 583.61L361.53 583.94L360.98 584.06L360.43 584.3L359.88 584.37L359.33 584.16L358.78 583.91L358.23 583.79L357.68 583.71L357.13 583.74L356.58 583.81L356.03 583.99L355.48 584.22L354.93 584.32L354.38 584.67L353.82 584.91L353.27 584.95L352.72 584.77L352.17 584.89L351.62 584.86L351.07 584.97L350.52 584.95L349.96 585.13L349.41 584.97L348.86 585.31L348.31 585.57L347.76 585.58L347.21 585.99L346.66 585.93L346.1 585.74L345.55 585.77L345 585.79L344.45 585.7L343.9 585.96L343.35 586.07L342.79 585.9L342.24 586.23L341.69 586.34L341.14 586.29L340.59 586.33L340.04 586.49L339.48 586.53L338.93 586.45L338.38 586.72L337.83 586.66L337.28 586.79L336.73 586.86L336.17 586.89L335.62 587L335.07 587.09L334.52 586.89L333.97 587.2L333.41 587.22L332.86 587.23L332.31 587.42L331.76 587.28L331.21 587.57L330.66 587.91L330.1 588.02L329.55 588.24L329 588.39L328.45 588.44L327.9 588.74L327.34 588.82L326.79 588.78L326.24 588.4L325.69 588.56L325.13 588.27L324.58 588.34L324.03 588.72L323.48 588.96L322.93 589.1L322.37 589.2L321.82 588.95L321.27 588.95L320.72 588.85L320.17 588.87L319.61 588.97L319.06 588.99L318.51 589.03L317.96 589.21L317.4 589.63L316.85 589.88L316.3 589.88L315.75 590L315.19 590.09L314.64 590.07L314.09 590.37L313.54 590.23L312.98 590.41L312.43 590.37L311.88 590.36L311.33 590.38L310.77 590.43L310.22 590.63L309.67 590.5L309.12 590.76L308.56 590.87L308.01 591.44L307.46 591.54L306.91 591.59L306.35 591.58L305.8 591.66L305.25 591.54L304.7 591.69L304.14 591.85L303.59 591.8L303.04 592.02L302.48 592.32L301.93 592.69L301.38 593.07L300.83 593.35L300.28 593.49L299.72 593.5L299.17 593.33L298.62 593.23L298.07 593.63L297.52 593.6L296.96 594.04L296.41 594.38L295.86 594.29L295.31 594.54L294.75 594.63L294.2 594.55L293.65 594.7L293.1 594.69L292.54 594.66L291.99 594.49L291.44 594.65L290.88 594.75L290.33 595.13L289.78 595.42L289.22 595.59L288.67 595.44L288.12 595.19L287.56 595.31L287.01 595.38L286.45 595.68L285.9 595.85L285.35 596.31L284.79 596.43L284.24 596.25L283.68 596.41L283.13 596.08L282.58 596.55L282.02 596.93L281.47 597.04L280.91 597.62L280.36 597.71L279.8 597.77L279.25 598.03L278.69 598.08L278.14 598.33L277.58 598.21L277.03 598.09L276.48 598.19L275.92 598.24L275.37 598.31L274.81 598.3L274.26 598.65L273.7 598.8L273.15 598.95L272.59 599.16L272.04 599.59L271.48 599.59L270.93 599.87L270.37 600.37L269.82 600.55L269.26 600.61L268.71 600.76L268.15 600.5L267.6 600.69L267.04 600.9L266.49 601.29L265.93 601.55L265.38 602.02L264.82 602.27L264.27 602.43L263.71 602.79L263.16 602.97L262.6 602.91L262.05 602.87L261.49 602.66L260.94 602.61L260.39 602.81L259.83 603.24L259.28 603.42L258.73 603.56L258.17 603.99L257.62 604.22L257.07 604.42L256.51 604.72L255.96 605.1L255.4 605.38L254.85 605.52L254.3 605.85L253.74 605.94L253.18 606.14L252.63 605.87L252.07 606.12L251.52 606.17L250.96 606.54L250.4 606.84L249.85 607.28L249.29 607.58L248.73 607.6L248.17 607.85L247.62 608.05L247.06 608.43L246.5 608.85L245.95 609.03L245.39 609.47L244.83 609.62L244.28 610.1L243.72 610.27L243.16 610.37L242.61 610.64L242.05 610.95L241.49 611.04L240.93 611.29L240.38 611.39L239.82 611.62L239.26 611.58L238.71 611.66L238.15 612.06L237.59 612.42L237.03 612.61L236.48 613.06L235.92 613.71L235.36 614L234.8 614.32L234.25 614.71L233.69 615.07L233.13 615.35L232.57 615.58L232.01 615.65L231.45 616.15L230.89 616.36L230.33 616.89L229.76 617.07L229.2 617.21L228.64 617.58L228.07 617.82L227.51 618.1L226.95 618.44L226.39 618.86L225.82 619.4L225.26 619.78L224.7 619.99L224.14 620.24L223.58 620.54L223.02 621.02L222.47 621.26L221.91 621.56L221.35 621.85L220.79 622.54L220.24 622.82L219.68 622.92L219.12 623.46L218.57 623.71L218.01 624.18L217.45 624.34L216.9 625.02L216.34 625.37L215.78 625.94L215.22 626.35L214.66 626.76L214.11 627.28L213.55 627.45L212.99 628.07L212.43 628.17L211.87 628.61L211.31 629.34L210.75 629.62L210.19 630.18L209.63 630.74L209.07 631.48L208.5 631.69L207.94 632.08L207.38 632.72L206.82 633.12L206.26 633.95L205.7 634.69L205.14 635.35L204.58 635.87L204.02 636.23L203.45 636.48L202.89 636.86L202.33 637.08L201.77 637.75L201.21 638.24L200.65 638.99L200.08 639.62L199.52 640.03L198.96 640.84L198.4 641.44L197.84 642.05L197.28 642.93L196.72 643.7L196.16 644.82L195.6 645.56L195.04 646.16L194.49 646.94L193.93 647.73L193.37 648.27L192.81 648.94L192.26 649.44L191.7 649.98L191.14 650.73L190.58 651.65L190.03 652.57L189.47 653.28L188.91 654.17L188.35 654.77L187.8 655.37L187.24 656L186.68 656.82L186.12 657.88L185.56 658.95L185.01 659.88L184.45 660.64L183.89 661.52L183.33 662.31L182.78 663.2L182.22 664.16L181.67 665.13L181.11 666.01L180.56 666.96L180.01 667.89L179.45 668.83L178.9 669.64L178.35 670.74L177.79 671.67L177.24 672.38L176.69 673.32L176.14 674.24L175.58 675.23L175.03 676.26L174.48 677.46L173.93 678.45L173.38 679.39L172.82 680.28L172.27 681.11L171.72 682.01L171.17 682.96L170.61 684.15L170.06 685.18L169.51 686.16L168.96 687.34L168.41 688.41L167.85 689.51L167.3 690.57L166.75 691.57L166.19 692.73L165.64 693.78L165.09 694.85L164.53 695.94L163.98 697.03L163.42 698.09L162.87 699.23L162.31 700.35L161.76 701.58L161.2 702.83L160.64 704.09L160.09 705.32L159.53 706.6L158.98 707.9L158.42 709.21L157.86 710.54L157.31 711.91L156.76 713.28L156.2 714.69L155.65 716.12L155.09 717.57L154.54 719.05L153.99 720.54L153.43 722.06L152.88 723.6L152.33 725.15L151.77 726.72L151.22 728.29L150.67 729.88L150.12 731.49L149.57 733.11L149.01 734.76L148.46 736.41L147.91 738.09L147.36 739.78L146.81 741.49L146.25 743.22L145.7 744.96L145.15 746.73L144.6 748.5L144.05 750.3L143.49 752.11L142.94 753.93L142.39 755.77L141.84 757.61L141.29 759.46L140.74 761.31L140.19 763.16L139.64 765.01L139.09 766.86L138.54 768.7L137.99 770.54L137.44 772.36L136.9 774.18L136.35 775.98L135.8 777.77L135.25 779.54L134.7 781.28L134.15 783.01L133.61 784.71L133.06 786.38L132.51 788.03L131.97 789.64L131.42 791.21L130.88 792.75L130.34 794.24L129.8 795.67L129.26 797.06L128.72 798.38L128.18 799.65L127.65 800.86L127.12 802L126.59 803.08L126.06 804.08L125.55 805.01L125.04 805.86L124.54 806.63L124.05 807.32L123.57 807.91L123.12 808.42L122.68 808.84L122.29 809.17L121.93 809.41L121.49 809.64L121.06 809.78L120.65 809.84Z" fill="#4b79b8" stroke="#4b79b8" stroke-width="0.3" stroke-linejoin="round"/>
<circle cx="121.4" cy="811.91" r="2.2" fill="#4b79b8"/>
<circle cx="427.2" cy="578.63" r="1.65" fill="#4b79b8"/>
<path d="M123.36 816.54L124.08 816.35L124.79 816.08L125.48 815.71L126.27 815.18L127.02 814.57L127.72 813.89L128.39 813.14L129.03 812.33L129.66 811.46L130.27 810.52L130.87 809.52L131.46 808.46L132.05 807.34L132.63 806.16L133.2 804.93L133.77 803.64L134.34 802.3L134.9 800.91L135.46 799.47L136.02 797.98L136.58 796.45L137.14 794.87L137.7 793.26L138.25 791.62L138.81 789.95L139.36 788.26L139.92 786.53L140.47 784.79L141.02 783.03L141.58 781.24L142.13 779.45L142.68 777.63L143.23 775.81L143.78 773.98L144.33 772.14L144.88 770.29L145.43 768.44L145.98 766.59L146.53 764.74L147.08 762.89L147.63 761.05L148.18 759.21L148.73 757.38L149.28 755.56L149.83 753.76L150.38 751.98L150.92 750.21L151.47 748.47L152.02 746.73L152.57 745.02L153.11 743.33L153.66 741.65L154.21 739.99L154.76 738.34L155.3 736.72L155.85 735.11L156.4 733.51L156.94 731.94L157.49 730.38L158.04 728.83L158.59 727.29L159.13 725.77L159.68 724.27L160.22 722.79L160.77 721.34L161.31 719.92L161.86 718.52L162.4 717.14L162.95 715.75L163.49 714.39L164.03 713.07L164.58 711.8L165.12 710.49L165.66 709.25L166.2 708.08L166.75 706.92L167.29 705.75L167.83 704.61L168.37 703.53L168.92 702.41L169.46 701.25L170 700.25L170.55 699.11L171.09 698.07L171.64 697.1L172.18 696.01L172.73 695.04L173.28 693.92L173.82 693L174.37 691.88L174.92 690.81L175.47 689.73L176.01 688.58L176.56 687.48L177.11 686.5L177.65 685.55L178.2 684.5L178.75 683.66L179.3 682.78L179.84 681.8L180.39 680.89L180.94 679.88L181.49 678.81L182.03 677.86L182.58 677.02L183.13 675.91L183.67 675.02L184.22 674.06L184.77 672.95L185.31 671.96L185.86 671L186.4 670.06L186.95 669.41L187.49 668.45L188.03 667.7L188.57 666.53L189.11 665.74L189.66 664.76L190.2 663.91L190.74 663.27L191.28 662.6L191.82 662.28L192.36 661.49L192.9 660.81L193.44 659.83L193.98 659.04L194.52 658.26L195.06 657.68L195.6 656.59L196.14 656.05L196.68 655.02L197.22 654.31L197.76 653.44L198.3 652.77L198.84 651.93L199.38 651.58L199.92 651.33L200.46 650.58L201 650.17L201.54 649.28L202.08 648.52L202.62 647.67L203.15 647.04L203.69 646.92L204.22 646.38L204.76 645.89L205.29 645.37L205.83 644.85L206.36 643.96L206.9 643.57L207.43 642.94L207.97 642.32L208.5 641.83L209.04 641.13L209.57 640.62L210.11 639.75L210.64 639.43L211.18 638.92L211.72 638.48L212.25 638.02L212.79 637.69L213.33 637.08L213.86 636.88L214.4 636.16L214.94 635.74L215.47 635.36L216.01 634.77L216.55 634.09L217.08 633.54L217.62 633.06L218.16 632.74L218.7 632.52L219.24 632.12L219.78 631.57L220.32 631.27L220.86 631.21L221.4 630.77L221.94 630.61L222.48 630.03L223.02 629.45L223.56 628.95L224.11 628.37L224.65 627.82L225.19 627.34L225.73 627.21L226.27 626.71L226.81 626.25L227.35 626.05L227.89 626.25L228.43 626.1L228.96 625.78L229.5 625.2L230.03 624.63L230.56 624.09L231.1 623.81L231.63 623.56L232.17 623.61L232.7 623.38L233.23 623.06L233.77 622.49L234.3 622.21L234.83 621.92L235.37 621.86L235.91 621.22L236.45 621.14L236.99 620.77L237.53 620.52L238.07 620.63L238.61 620.3L239.15 620.36L239.69 619.94L240.23 619.38L240.77 618.82L241.31 618.4L241.85 617.95L242.39 617.74L242.93 617.93L243.47 617.47L244.02 617.47L244.56 617.08L245.1 616.78L245.64 616.43L246.18 616.34L246.72 616.22L247.26 616.07L247.8 615.92L248.34 615.76L248.89 615.43L249.43 615.01L249.97 614.64L250.51 614.23L251.05 614.31L251.59 613.98L252.13 613.62L252.67 613.52L253.22 613.73L253.76 613.4L254.3 613.38L254.84 613.3L255.38 613.02L255.92 612.46L256.47 612.14L257.01 611.91L257.55 611.64L258.1 611.86L258.64 611.4L259.19 611.68L259.73 611.29L260.28 611.21L260.82 611.42L261.37 611.15L261.92 610.46L262.46 610.12L263.01 609.63L263.55 609.39L264.1 608.97L264.64 609.03L265.19 608.9L265.73 608.63L266.28 608.59L266.82 608.47L267.36 608.13L267.91 608.26L268.45 608.26L268.99 608.17L269.53 607.99L270.08 608.1L270.62 608L271.16 607.54L271.71 607.46L272.25 607.32L272.8 606.91L273.34 606.39L273.88 606.34L274.43 605.98L274.97 606.09L275.51 605.89L276.06 605.63L276.6 605.71L277.15 605.39L277.69 605.08L278.24 605.07L278.78 604.96L279.32 604.91L279.87 604.86L280.41 604.72L280.96 604.58L281.5 604.26L282.05 603.94L282.59 603.84L283.13 603.47L283.68 603.44L284.22 603.78L284.77 603.77L285.31 603.81L285.86 603.76L286.4 603.55L286.95 603.46L287.49 603.32L288.04 603.5L288.58 603.43L289.13 603.24L289.67 602.85L290.22 602.99L290.76 602.73L291.31 602.4L291.85 602.06L292.4 602.35L292.94 602.21L293.49 602.16L294.04 601.69L294.58 601.53L295.13 600.81L295.67 600.54L296.22 600.15L296.77 600.21L297.31 600.39L297.86 600.31L298.41 600.37L298.96 600.27L299.5 600.42L300.05 600.62L300.6 600.37L301.14 600.34L301.69 600.38L302.24 600.11L302.79 599.95L303.33 599.48L303.88 599.4L304.43 599.2L304.98 599.06L305.52 599.02L306.07 598.99L306.62 598.99L307.16 599.28L307.71 599.07L308.25 598.59L308.8 598.56L309.35 598.28L309.89 598.33L310.44 598.37L310.99 598.12L311.53 598.09L312.08 597.66L312.63 597.48L313.18 597L313.72 596.88L314.27 596.75L314.82 596.86L315.36 596.41L315.91 596.57L316.46 596.29L317 596.63L317.55 596.29L318.1 596.16L318.64 596L319.19 596.09L319.74 595.78L320.28 595.75L320.83 595.58L321.38 595.41L321.93 595.49L322.47 595.57L323.02 595.88L323.57 595.66L324.11 595.79L324.66 595.95L325.21 595.35L325.76 595.38L326.3 594.8L326.85 594.65L327.4 594.49L327.95 594.39L328.49 593.85L329.04 594.02L329.59 593.67L330.14 593.81L330.68 593.46L331.23 593.69L331.78 593.41L332.33 593.37L332.87 593.26L333.42 593.41L333.97 593.53L334.52 593.91L335.06 593.89L335.61 593.75L336.16 593.78L336.71 593.22L337.25 593.01L337.8 593.14L338.35 593.03L338.9 592.81L339.44 592.82L339.99 592.33L340.54 592.52L341.09 592.29L341.64 592.13L342.18 592.22L342.73 592.15L343.28 592.41L343.83 592.6L344.37 592.74L344.92 592.5L345.47 592.23L346.02 591.89L346.57 591.83L347.11 591.72L347.66 591.53L348.21 591.1L348.76 591L349.31 590.9L349.86 590.79L350.4 590.79L350.95 590.54L351.5 590.64L352.05 590.45L352.6 590.38L353.14 590.46L353.69 590.52L354.24 590.19L354.79 590.22L355.34 590.5L355.89 590.29L356.43 590.32L356.98 590.48L357.53 590.68L358.08 590.39L358.63 590.22L359.18 589.8L359.73 589.43L360.28 589.43L360.83 589.48L361.38 589.24L361.93 589.12L362.48 589.3L363.03 589.41L363.58 589.45L364.13 589.46L364.68 589.19L365.22 588.99L365.77 589.14L366.32 589.12L366.87 589.18L367.42 589.24L367.97 589.5L368.52 589.54L369.07 589.31L369.61 588.78L370.16 588.61L370.71 588.26L371.26 588.19L371.81 588.43L372.36 588.5L372.91 588.54L373.46 588.61L374 588.34L374.55 588.53L375.1 588.59L375.65 588.14L376.2 587.91L376.75 587.78L377.3 587.77L377.85 587.96L378.4 588.04L378.94 588.3L379.49 588.08L380.04 587.91L380.59 587.8L381.14 587.51L381.69 587.48L382.24 587.33L382.79 586.91L383.34 586.8L383.89 586.8L384.44 586.79L384.98 586.71L385.53 586.91L386.08 586.55L386.63 586.47L387.18 586.14L387.73 586.25L388.27 586.07L388.82 586.29L389.37 586.03L389.91 586.32L390.46 586.26L391.01 585.93L391.56 586.13L392.1 586.04L392.65 585.73L393.2 586.24L393.75 586.34L394.3 586.44L394.85 586.47L395.39 586.29L395.94 586.14L396.49 586.23L397.04 586.28L397.59 585.85L398.14 585.79L398.69 585.55L399.24 585.53L399.79 585.43L400.34 585.19L400.89 584.74L401.44 584.69L401.99 584.55L402.54 584.78L403.09 584.94L403.64 584.92L404.19 584.56L404.74 584.65L405.29 584.45L405.84 584.53L406.39 584.66L406.94 584.35L407.49 584.51L408.04 584.5L408.59 584.4L409.14 584.11L409.69 584.36L410.24 584.41L410.79 584.61L411.34 584.38L411.9 584.54L412.45 584.61L413 584.4L413.55 584.07L414.1 583.63L414.65 583.65L415.2 583.58L415.75 583.48L416.3 583.35L416.85 583.43L417.4 583.74L417.95 583.73L418.5 584.13L419.05 584.06L419.6 583.87L420.15 583.96L420.7 583.61L421.25 583.56L421.8 583.63L422.35 583.84L422.9 583.75L423.45 583.89L424 583.41L424.55 583.51L425.1 582.94L425.65 583.1L426.2 583.12L426.75 583.19L427.3 583.26L427.85 583.28L428.4 583.3L428 579.12L427.45 579.1L426.9 579.08L426.35 579.01L425.8 578.94L425.25 578.92L424.7 578.76L424.15 579.33L423.6 579.23L423.05 579.71L422.5 579.57L421.95 579.66L421.4 579.45L420.85 579.38L420.3 579.43L419.75 579.78L419.2 579.69L418.65 579.88L418.1 579.95L417.55 579.55L417 579.56L416.45 579.25L415.9 579.17L415.35 579.3L414.8 579.4L414.25 579.47L413.7 579.45L413.15 579.88L412.6 580.22L412.05 580.43L411.5 580.36L410.96 580.2L410.41 580.43L409.86 580.23L409.31 580.18L408.76 579.93L408.21 580.22L407.66 580.32L407.11 580.33L406.56 580.17L406.01 580.48L405.46 580.35L404.91 580.27L404.36 580.47L403.81 580.38L403.26 580.74L402.71 580.75L402.16 580.6L401.61 580.36L401.06 580.51L400.51 580.56L399.96 581.01L399.41 581.24L398.86 581.35L398.31 581.37L397.76 581.61L397.21 581.67L396.66 582.09L396.11 582.05L395.56 581.95L395.01 582.11L394.45 582.29L393.9 582.26L393.35 582.16L392.8 582.06L392.25 581.55L391.7 581.86L391.14 581.95L390.59 581.75L390.04 582.09L389.49 582.14L388.93 581.84L388.38 582.1L387.83 581.86L387.27 582.04L386.72 581.92L386.17 582.25L385.62 582.32L385.07 582.67L384.52 582.47L383.96 582.54L383.41 582.54L382.86 582.54L382.31 582.64L381.76 583.05L381.21 583.2L380.66 583.22L380.11 583.51L379.56 583.61L379.01 583.77L378.46 583.99L377.9 583.72L377.35 583.63L376.8 583.43L376.25 583.43L375.7 583.56L375.15 583.78L374.6 584.23L374.05 584.15L373.5 583.97L372.94 584.22L372.39 584.15L371.84 584.1L371.29 584.03L370.74 583.78L370.19 583.84L369.64 584.18L369.09 584.34L368.53 584.87L367.98 585.09L367.43 585.05L366.88 584.78L366.33 584.71L365.78 584.65L365.23 584.66L364.68 584.51L364.12 584.69L363.57 584.96L363.02 584.95L362.47 584.9L361.92 584.78L361.37 584.59L360.82 584.71L360.27 584.94L359.72 584.88L359.17 584.87L358.62 585.23L358.07 585.65L357.52 585.82L356.97 586.1L356.42 585.89L355.87 585.72L355.31 585.69L354.76 585.89L354.21 585.6L353.66 585.56L353.11 585.89L352.56 585.83L352 585.74L351.45 585.8L350.9 585.98L350.35 585.88L349.8 586.12L349.24 586.11L348.69 586.22L348.14 586.31L347.59 586.4L347.04 586.83L346.49 587.01L345.93 587.11L345.38 587.17L344.83 587.5L344.28 587.76L343.73 588L343.17 587.86L342.62 587.65L342.07 587.39L341.52 587.46L340.96 587.36L340.41 587.51L339.86 587.73L339.31 587.53L338.76 588.02L338.2 588L337.65 588.21L337.1 588.32L336.55 588.19L335.99 588.39L335.44 588.94L334.89 588.91L334.34 589.04L333.78 589.06L333.23 588.67L332.68 588.54L332.13 588.38L331.57 588.49L331.02 588.52L330.47 588.79L329.92 588.55L329.36 588.9L328.81 588.76L328.26 589.1L327.71 588.93L327.15 589.45L326.6 589.55L326.05 589.71L325.5 589.85L324.94 590.42L324.39 590.38L323.84 590.98L323.29 590.81L322.73 590.67L322.18 590.9L321.63 590.57L321.07 590.48L320.52 590.4L319.97 590.56L319.42 590.73L318.86 590.75L318.31 591.05L317.76 590.96L317.2 591.12L316.65 591.24L316.1 591.58L315.54 591.23L314.99 591.51L314.44 591.33L313.88 591.78L313.33 591.66L312.78 591.78L312.22 591.9L311.67 592.37L311.12 592.55L310.57 592.98L310.01 593L309.46 593.25L308.91 593.2L308.35 593.14L307.8 593.42L307.25 593.44L306.69 593.92L306.14 594.11L305.58 593.82L305.03 593.81L304.48 593.84L303.92 593.88L303.37 594.01L302.82 594.2L302.27 594.28L301.71 594.74L301.16 594.9L300.61 595.16L300.06 595.11L299.5 595.14L298.95 595.38L298.4 595.18L297.84 595.02L297.29 595.11L296.74 595.05L296.19 595.13L295.63 594.94L295.08 594.87L294.53 595.26L293.97 595.52L293.42 596.23L292.86 596.39L292.31 596.85L291.76 596.9L291.2 597.03L290.65 596.74L290.09 597.07L289.54 597.39L288.98 597.65L288.43 597.51L287.87 597.89L287.32 598.08L286.76 598.14L286.21 597.96L285.65 598.1L285.1 598.18L284.54 598.38L283.99 598.43L283.43 598.39L282.88 598.39L282.32 598.05L281.77 598.07L281.21 598.44L280.65 598.53L280.1 598.85L279.54 599.17L278.99 599.31L278.43 599.45L277.88 599.51L277.32 599.56L276.76 599.67L276.21 599.68L275.65 600L275.1 600.31L274.54 600.24L273.99 600.51L273.43 600.71L272.87 600.6L272.32 600.97L271.76 601.02L271.2 601.54L270.65 601.95L270.09 602.1L269.54 602.19L268.98 602.65L268.42 602.75L267.87 602.65L267.31 602.83L266.75 602.92L266.19 602.92L265.64 602.8L265.08 603.15L264.52 603.27L263.97 603.31L263.41 603.59L262.86 603.73L262.3 603.67L261.75 604.09L261.19 604.33L260.64 604.83L260.08 605.16L259.53 605.87L258.98 606.13L258.42 605.93L257.87 606.01L257.31 606.41L256.76 606.13L256.2 606.59L255.65 606.37L255.09 606.65L254.53 606.88L253.98 607.21L253.42 607.78L252.86 608.06L252.3 608.15L251.74 608.18L251.18 608.51L250.63 608.31L250.07 608.42L249.51 608.78L248.95 609.12L248.39 609.04L247.83 609.47L247.27 609.84L246.71 610.26L246.16 610.61L245.6 610.77L245.04 610.93L244.48 611.09L243.92 611.22L243.36 611.32L242.8 611.67L242.24 611.98L241.68 612.38L241.13 612.39L240.57 612.86L240.01 612.67L239.45 612.89L238.89 613.35L238.33 613.78L237.77 614.35L237.21 614.92L236.65 615.35L236.09 615.3L235.53 615.64L234.97 615.54L234.41 615.8L233.85 616.18L233.29 616.27L232.73 616.92L232.17 617L231.6 617.3L231.03 617.6L230.47 618.19L229.9 618.53L229.33 618.78L228.77 618.75L228.2 619.02L227.64 619.32L227.07 619.87L226.5 620.46L225.94 621.07L225.37 621.41L224.81 621.57L224.25 621.38L223.69 621.6L223.13 622.07L222.57 622.58L222.01 622.73L221.45 623.22L220.89 623.78L220.34 624.37L219.78 624.89L219.22 625.48L218.66 626.07L218.1 626.25L217.54 626.7L216.98 626.77L216.42 627.08L215.86 627.66L215.3 628.07L214.74 628.31L214.18 628.65L213.62 629.14L213.05 629.71L212.49 630.41L211.93 631.02L211.36 631.42L210.8 631.87L210.24 632.61L209.67 632.83L209.11 633.47L208.55 633.82L207.98 634.31L207.42 634.77L206.86 635.31L206.29 635.65L205.73 636.55L205.16 637.08L204.6 637.82L204.03 638.34L203.47 638.99L202.9 639.65L202.34 640.07L201.77 640.99L201.21 641.54L200.64 642.09L200.08 642.61L199.51 643.18L198.95 643.34L198.38 644L197.82 644.89L197.26 645.67L196.7 646.59L196.14 647.02L195.58 647.8L195.02 648.07L194.46 648.44L193.9 649.31L193.34 650L192.78 650.9L192.22 651.63L191.66 652.68L191.1 653.25L190.54 654.36L189.98 654.97L189.42 655.78L188.86 656.6L188.3 657.6L187.74 658.31L187.18 659.14L186.62 659.48L186.06 660.18L185.5 660.85L184.94 661.73L184.39 662.74L183.83 663.56L183.27 664.76L182.71 665.53L182.15 666.51L181.6 667.19L181.04 668.14L180.49 669.11L179.93 670.12L179.38 671.24L178.83 672.21L178.27 673.11L177.72 674.23L177.17 675.08L176.61 676.05L176.06 677.13L175.51 678.15L174.96 679.07L174.4 680.06L173.85 680.94L173.3 681.79L172.75 682.85L172.19 683.82L171.64 684.8L171.09 685.91L170.53 687.08L169.98 688.16L169.43 689.24L168.88 690.38L168.32 691.31L167.77 692.44L167.22 693.43L166.66 694.53L166.11 695.53L165.55 696.59L165 697.75L164.44 698.77L163.88 699.96L163.33 701.11L162.77 702.22L162.21 703.38L161.65 704.59L161.1 705.78L160.54 706.99L159.98 708.27L159.42 709.61L158.87 710.92L158.31 712.27L157.75 713.66L157.2 715.07L156.64 716.48L156.09 717.91L155.53 719.36L154.98 720.84L154.42 722.34L153.87 723.86L153.31 725.4L152.76 726.95L152.21 728.52L151.66 730.1L151.1 731.69L150.55 733.3L150 734.92L149.44 736.56L148.89 738.23L148.34 739.9L147.79 741.6L147.23 743.31L146.68 745.04L146.13 746.78L145.58 748.55L145.02 750.33L144.47 752.12L143.92 753.94L143.37 755.76L142.82 757.6L142.27 759.44L141.72 761.29L141.17 763.14L140.62 764.99L140.07 766.84L139.52 768.69L138.97 770.53L138.42 772.37L137.87 774.19L137.32 776.01L136.77 777.81L136.22 779.59L135.68 781.36L135.13 783.1L134.58 784.83L134.04 786.53L133.49 788.2L132.95 789.84L132.4 791.44L131.86 793.01L131.32 794.55L130.78 796.03L130.24 797.46L129.7 798.83L129.16 800.16L128.63 801.42L128.1 802.61L127.57 803.75L127.05 804.81L126.54 805.8L126.03 806.71L125.53 807.54L125.04 808.29L124.57 808.95L124.11 809.53L123.68 810L123.28 810.39L122.93 810.69L122.62 810.9L122.21 811.11L121.82 811.23L121.44 811.28Z" fill="#b4c2da" stroke="#b4c2da" stroke-width="0.3" stroke-linejoin="round"/>
<circle cx="122.4" cy="813.91" r="2.8" fill="#b4c2da"/>
<circle cx="428.2" cy="581.21" r="2.1" fill="#b4c2da"/>
<path d="M122.6 810.59L123.15 810.1L123.7 809.49L124.25 808.77L124.8 807.95L125.35 807.02L125.9 805.99L126.45 804.88L127 803.69L127.55 802.46L128.1 801.17L128.65 799.84L129.2 798.47L129.75 797.05L130.3 795.6L130.85 794.11L131.4 792.59L131.95 791.05L132.5 789.48L133.05 787.89L133.6 786.29L134.15 784.67L134.7 783.03L135.25 781.35L135.8 779.64L136.35 777.89L136.9 776.13L137.45 774.33L138 772.52L138.55 770.68L139.1 768.83L139.65 766.96L140.2 765.07L140.75 763.18L141.3 761.26L141.85 759.33L142.4 757.39L142.95 755.44L143.5 753.48L144.05 751.51L144.6 749.54L145.15 747.6L145.7 745.73L146.25 743.97L146.8 742.35L147.35 740.83L147.9 739.38L148.45 737.95L149 736.5L149.55 734.98L150.1 733.36L150.65 731.59L151.2 729.7L151.75 727.75L152.3 725.85L152.85 724.06L153.4 722.41L153.95 720.86L154.5 719.39L155.05 717.97L155.6 716.58L156.15 715.18L156.7 713.73L157.25 712.23L157.8 710.62L158.35 708.95L158.9 707.24L159.45 705.51L160 703.81L160.55 702.18L161.1 700.63L161.65 699.17L162.2 697.85L162.75 696.57L163.3 695.34L163.85 694.19L164.4 693L164.95 691.89L165.5 690.7L166.05 689.56L166.6 688.47L167.15 687.25L167.7 686.15L168.25 684.94L168.8 683.73L169.35 682.44L169.9 681.2L170.45 679.97L171 678.85L171.55 677.63L172.1 676.5L172.65 675.35L173.2 674.14L173.75 673.12L174.3 671.98L174.85 670.89L175.4 669.79L175.95 668.84L176.5 667.76L177.05 666.75L177.6 665.72L178.15 664.85L178.7 663.98L179.25 663.01L179.8 662.18L180.35 661.25L180.9 660.38L181.45 659.58L182 658.89L182.55 657.98L183.1 657.25L183.65 656.29L184.2 655.37L184.75 654.63L185.3 653.79L185.85 652.74L186.4 652.14L186.95 651.2L187.5 650.44L188.05 649.92L188.6 648.91L189.15 648.23L189.7 647.74L190.25 646.87L190.8 646.13L191.35 645.52L191.9 644.92L192.45 644.43L193 643.5L193.55 643.08L194.1 642.2L194.65 641.71L195.2 640.99L195.75 640.08L196.3 639.39L196.85 638.94L197.4 638.47L197.95 638.33L198.5 637.8L199.05 637.33L199.6 637.04L200.15 636.18L200.7 635.67L201.25 635.06L201.8 634.52L202.35 633.94L202.9 633.76L203.45 633.23L204 632.6L204.55 631.68L205.1 631.1L205.65 630.8L206.2 630.69L206.75 630.31L207.3 630.14L207.85 629.79L208.4 629.16L208.95 628.77L209.5 628.21L210.05 627.63L210.6 626.92L211.15 626.34L211.7 625.94L212.25 625.24L212.8 624.95L213.35 624.6L213.9 624.36L214.45 623.85L215 623.54L215.55 623.26L216.1 622.98L216.65 622.84L217.2 622.47L217.75 621.88L218.3 621.52L218.85 621.25L219.4 620.96L219.95 620.67L220.5 620.26L221.05 619.79L221.6 619.36L222.15 618.8L222.7 618.47L223.25 617.93L223.8 617.71L224.35 617.69L224.9 617.36L225.45 617.24L226 616.76L226.55 616.52L227.1 615.91L227.65 615.63L228.2 615.31L228.75 614.64L229.3 614.53L229.85 613.93L230.4 613.92L230.95 613.78L231.5 613.51L232.05 613.12L232.6 612.84L233.15 612.79L233.7 612.73L234.25 612.27L234.8 612.19L235.35 611.64L235.9 611.62L236.45 610.99L237 610.72L237.55 610.56L238.1 610.16L238.65 609.89L239.2 609.63L239.75 609.37L240.3 609.12L240.85 608.63L241.4 608.3L241.95 607.8L242.5 607.58L243.05 607.26L243.6 606.94L244.15 606.7L244.7 606.85L245.25 606.67L245.8 606.52L246.35 606.45L246.9 606.5L247.45 606.18L248 605.82L248.55 605.47L249.1 605.12L249.65 604.73L250.2 604.66L250.75 604.3L251.3 604.08L251.85 603.71L252.4 603.72L252.95 603.56L253.5 603.47L254.05 603.4L254.6 603.45L255.15 603.16L255.7 603.01L256.25 602.92L256.8 602.6L257.35 602.33L257.9 602.32L258.45 602.09L259 601.88L259.55 601.55L260.1 601.37L260.65 601.18L261.2 600.87L261.75 600.82L262.3 600.67L262.85 600.44L263.4 600.38L263.95 600.3L264.5 600.29L265.05 600.2L265.6 599.91L266.15 599.97L266.7 599.7L267.25 599.58L267.8 599.51L268.35 599.43L268.9 598.96L269.45 598.98L270 598.85L270.55 598.48L271.1 598.45L271.65 598.36L272.2 598.1L272.75 598.11L273.3 598.03L273.85 597.81L274.4 597.64L274.95 597.4L275.5 597.16L276.05 596.84L276.6 596.59L277.15 596.5L277.7 596.38L278.25 596.48L278.8 596.63L279.35 596.47L279.9 596.77L280.45 596.82L281 596.67L281.55 596.71L282.1 596.56L282.65 596.65L283.2 596.19L283.75 596.3L284.3 596.03L284.85 595.77L285.4 595.49L285.95 595.56L286.5 595.42L287.05 594.97L287.6 595.04L288.15 594.9L288.7 594.67L289.25 594.61L289.8 594.52L290.35 594.7L290.9 594.72L291.45 594.55L292 594.75L292.55 594.67L293.1 594.64L293.65 594.66L294.2 594.44L294.75 594.56L295.3 594.44L295.85 593.99L296.4 594.01L296.95 593.79L297.5 593.54L298.05 593.52L298.6 593.52L299.15 593.7L299.7 593.45L300.25 593.4L300.8 593.21L301.35 592.79L301.9 592.73L302.45 592.57L303 592.65L303.55 592.43L304.1 592.45L304.65 592.56L305.2 592.51L305.75 592.66L306.3 592.59L306.85 592.67L307.4 592.51L307.95 592.32L308.5 592.19L309.05 591.88L309.6 591.74L310.15 591.75L310.7 591.6L311.25 591.4L311.8 591.2L312.35 591.03L312.9 590.83L313.45 591L314 590.77L314.55 590.99L315.1 590.93L315.65 591.1L316.2 591.07L316.75 591.19L317.3 590.94L317.85 590.93L318.4 590.6L318.95 590.15L319.5 589.86L320.05 589.68L320.6 589.9L321.15 589.87L321.7 590.19L322.25 590.25L322.8 590.14L323.35 590.11L323.9 590.18L324.45 590.09L325 589.97L325.55 589.97L326.1 589.83L326.65 589.69L327.2 589.51L327.75 589.49L328.3 589.49L328.85 589.51L329.4 589.44L329.95 589.28L330.5 589.4L331.05 589.12L331.6 589.09L332.15 588.79L332.7 588.76L333.25 588.73L333.8 588.44L334.35 588.34L334.9 588.44L335.45 588.33L336 588.17L336.55 587.94L337.1 587.97L337.65 587.84L338.2 587.66L338.75 587.64L339.3 587.37L339.85 587.41L340.4 587.64L340.95 587.77L341.5 587.85L342.05 587.97L342.6 587.78L343.15 587.63L343.7 587.47L344.25 587.23L344.8 587.13L345.35 586.96L345.9 586.89L346.45 586.75L347 586.8L347.55 586.8L348.1 586.84L348.65 586.75L349.2 586.59L349.75 586.49L350.3 586.58L350.85 586.55L351.4 586.34L351.95 586.1L352.5 586.23L353.05 586.02L353.6 585.95L354.15 585.74L354.7 585.83L355.25 585.87L355.8 585.75L356.35 585.72L356.9 585.82L357.45 585.58L358 585.71L358.55 585.82L359.1 585.69L359.65 585.54L360.2 585.57L360.75 585.47L361.3 585.27L361.85 585.18L362.4 585.3L362.95 584.98L363.5 584.8L364.05 584.91L364.6 584.61L365.15 584.36L365.7 584.22L366.25 584.19L366.8 583.98L367.35 584.15L367.9 584.16L368.45 584.16L369 583.88L369.55 583.92L370.1 583.71L370.65 583.81L371.2 583.73L371.75 584L372.3 584.08L372.85 583.93L373.4 583.92L373.95 584.19L374.5 584.12L375.05 584.14L375.6 583.78L376.15 584L376.7 583.82L377.25 583.64L377.8 583.62L378.35 583.67L378.9 583.62L379.45 583.35L380 583.44L380.55 583.23L381.1 583.45L381.65 583.14L382.2 583.07L382.75 582.78L383.3 582.51L383.85 582.32L384.4 582.52L384.95 582.5L385.5 582.62L386.05 582.83L386.6 582.6L387.15 582.63L387.7 582.34L388.25 582.34L388.8 582.11L389.35 581.73L389.9 581.43L390.45 581.36L391 581.32L391.55 581.1L392.1 581.06L392.65 580.94L393.2 581.07L393.75 581.12L394.3 580.82L394.85 580.8L395.4 581.2L395.95 581.4L396.5 581.62L397.05 581.49L397.6 581.19L398.15 581.16L398.7 580.7L399.25 580.75L399.8 580.44L400.35 580.45L400.9 580.39L401.45 580.35L402 580.37L402.55 580.5L403.1 580.8L403.65 580.67L404.2 580.58L404.75 580.32L405.3 580.36L405.85 580.09L406.4 580.05L406.95 580.03L407.5 579.93L408.05 579.52L408.6 579.76L409.15 579.76L409.7 579.55L410.25 579.59L410.8 579.73L411.35 579.91L411.9 579.79L412.45 579.93L413 579.73L413.55 579.37L414.1 579.49L414.65 579.09L415.2 579.12L415.75 579.29L416.3 579.07L416.85 579.22L417.4 579.22L417.95 579.43L418.5 579.65L419.05 579.67L419.6 579.25L420.15 579.15L420.7 579.31L421.25 578.93L421.8 578.94L422.35 578.81L422.9 578.72L423.45 578.67L424 578.89L424.55 578.94L425.1 578.93L425.65 578.92L426.2 578.7L426.75 578.44L427.3 578.36L427.85 578.43" fill="none" stroke="#000" stroke-width="2.3" stroke-linejoin="round" stroke-linecap="round"/>
<line x1="122.5" y1="555.7" x2="122.5" y2="817.45" stroke="#000" stroke-width="2.9" stroke-linecap="butt"/>
<line x1="111.8" y1="816.15" x2="428.3" y2="816.15" stroke="#000" stroke-width="2.6" stroke-linecap="butt"/>
<line x1="111.8" y1="686" x2="122.5" y2="686" stroke="#000" stroke-width="2.6" stroke-linecap="butt"/>
<line x1="133.7" y1="816.15" x2="133.7" y2="827.15" stroke="#000" stroke-width="2.9" stroke-linecap="butt"/>
<text class="b" x="133.7" y="850.35" font-size="20" text-anchor="middle" stroke="#000" stroke-width="0.3" stroke-linejoin="round">70</text>
<line x1="207.05" y1="816.15" x2="207.05" y2="827.15" stroke="#000" stroke-width="2.9" stroke-linecap="butt"/>
<text class="b" x="207.05" y="850.35" font-size="20" text-anchor="middle" stroke="#000" stroke-width="0.3" stroke-linejoin="round">90</text>
<line x1="280.4" y1="816.15" x2="280.4" y2="827.15" stroke="#000" stroke-width="2.9" stroke-linecap="butt"/>
<text class="b" x="280.4" y="850.35" font-size="20" text-anchor="middle" stroke="#000" stroke-width="0.3" stroke-linejoin="round">110</text>
<line x1="353.75" y1="816.15" x2="353.75" y2="827.15" stroke="#000" stroke-width="2.9" stroke-linecap="butt"/>
<text class="b" x="353.75" y="850.35" font-size="20" text-anchor="middle" stroke="#000" stroke-width="0.3" stroke-linejoin="round">130</text>
<line x1="427.1" y1="816.15" x2="427.1" y2="827.15" stroke="#000" stroke-width="2.9" stroke-linecap="butt"/>
<text class="b" x="427.1" y="850.35" font-size="20" text-anchor="middle" stroke="#000" stroke-width="0.3" stroke-linejoin="round">150</text>
<text class="b" x="107.3" y="563.3" font-size="20" text-anchor="end" stroke="#000" stroke-width="0.3" stroke-linejoin="round">0.0</text>
<text class="b" x="107.3" y="693.2" font-size="20" text-anchor="end" stroke="#000" stroke-width="0.3" stroke-linejoin="round">-0.5</text>
<text class="b" x="107.3" y="823.35" font-size="20" text-anchor="end" stroke="#000" stroke-width="0.3" stroke-linejoin="round">-1.0</text>
<text class="b" x="275.5" y="878.75" font-size="20" text-anchor="middle" stroke="#000" stroke-width="0.3" stroke-linejoin="round" textLength="90.06" lengthAdjust="spacingAndGlyphs">Time (ms)</text>
<text class="b" x="63.4" y="686.6" font-size="20" text-anchor="middle" stroke="#000" stroke-width="0.3" stroke-linejoin="round" transform="rotate(-90 63.4 686.6)" textLength="214.8" lengthAdjust="spacingAndGlyphs">Amplitude (Normalized)</text>
<line x1="260.5" y1="702.4" x2="290.4" y2="702.4" stroke="#000" stroke-width="2.2" stroke-linecap="butt"/>
<text class="r" x="305.4" y="710.3" font-size="21" text-anchor="start" stroke="#000" stroke-width="0.25" stroke-linejoin="round">Saline</text>
<line x1="262" y1="738.6" x2="289.3" y2="738.6" stroke="#b4c2da" stroke-width="4.8" stroke-linecap="round"/>
<text class="r" x="305.4" y="746.1" font-size="21" text-anchor="start" stroke="#000" stroke-width="0.25" stroke-linejoin="round">Goal-directed</text>
<line x1="262" y1="774.4" x2="289.3" y2="774.4" stroke="#4b79b8" stroke-width="4.8" stroke-linecap="round"/>
<text class="r" x="305.4" y="781.3" font-size="21" text-anchor="start" stroke="#000" stroke-width="0.25" stroke-linejoin="round">Habitual</text>
</g>
<rect x="703.25" y="188.45" width="77.7" height="155.25" fill="#ecedf4" stroke="#000" stroke-width="1.4"/>
<rect x="821.65" y="176.35" width="77.7" height="167.35" fill="#2a5bad" stroke="#000" stroke-width="1.4"/>
<circle cx="720.3" cy="161.4" r="3.65" fill="#f1f1f1" stroke="#000" stroke-width="1.6"/>
<circle cx="720.3" cy="170.7" r="3.65" fill="#f1f1f1" stroke="#000" stroke-width="1.6"/>
<circle cx="734.6" cy="169.6" r="3.65" fill="#f1f1f1" stroke="#000" stroke-width="1.6"/>
<circle cx="763.2" cy="163.8" r="3.65" fill="#f1f1f1" stroke="#000" stroke-width="1.6"/>
<circle cx="763.2" cy="174.5" r="3.65" fill="#f1f1f1" stroke="#000" stroke-width="1.6"/>
<circle cx="706.2" cy="180.5" r="3.65" fill="#f1f1f1" stroke="#000" stroke-width="1.6"/>
<circle cx="763.2" cy="184.4" r="3.65" fill="#f1f1f1" stroke="#000" stroke-width="1.6"/>
<circle cx="777.5" cy="185" r="3.65" fill="#f1f1f1" stroke="#000" stroke-width="1.6"/>
<circle cx="734.5" cy="185.4" r="3.65" fill="#f1f1f1" stroke="#000" stroke-width="1.6"/>
<circle cx="706.2" cy="191.9" r="3.65" fill="#f1f1f1" stroke="#000" stroke-width="1.6"/>
<circle cx="720.3" cy="189.9" r="3.65" fill="#f1f1f1" stroke="#000" stroke-width="1.6"/>
<circle cx="748.9" cy="189.4" r="3.65" fill="#f1f1f1" stroke="#000" stroke-width="1.6"/>
<circle cx="734.5" cy="194.3" r="3.65" fill="#f1f1f1" stroke="#000" stroke-width="1.6"/>
<circle cx="777.5" cy="196.5" r="3.65" fill="#f1f1f1" stroke="#000" stroke-width="1.6"/>
<circle cx="720.3" cy="200" r="3.65" fill="#f1f1f1" stroke="#000" stroke-width="1.6"/>
<circle cx="734.6" cy="202.8" r="3.65" fill="#f1f1f1" stroke="#000" stroke-width="1.6"/>
<circle cx="748.8" cy="201.7" r="3.65" fill="#f1f1f1" stroke="#000" stroke-width="1.6"/>
<circle cx="763.2" cy="203.2" r="3.65" fill="#f1f1f1" stroke="#000" stroke-width="1.6"/>
<circle cx="741.6" cy="223" r="3.65" fill="#f1f1f1" stroke="#000" stroke-width="1.6"/>
<circle cx="829.2" cy="153.8" r="3.65" fill="#f1f1f1" stroke="#000" stroke-width="1.6"/>
<circle cx="829.2" cy="168.3" r="3.65" fill="#f1f1f1" stroke="#000" stroke-width="1.6"/>
<circle cx="829.2" cy="209.9" r="3.65" fill="#f1f1f1" stroke="#000" stroke-width="1.6"/>
<circle cx="844.6" cy="141.4" r="3.65" fill="#f1f1f1" stroke="#000" stroke-width="1.6"/>
<circle cx="844.6" cy="151.9" r="3.65" fill="#f1f1f1" stroke="#000" stroke-width="1.6"/>
<circle cx="844.6" cy="166.5" r="3.65" fill="#f1f1f1" stroke="#000" stroke-width="1.6"/>
<circle cx="844.6" cy="181.1" r="3.65" fill="#f1f1f1" stroke="#000" stroke-width="1.6"/>
<circle cx="844.6" cy="194.4" r="3.65" fill="#f1f1f1" stroke="#000" stroke-width="1.6"/>
<circle cx="844.6" cy="202.5" r="3.65" fill="#f1f1f1" stroke="#000" stroke-width="1.6"/>
<circle cx="860.3" cy="144.9" r="3.65" fill="#f1f1f1" stroke="#000" stroke-width="1.6"/>
<circle cx="860.3" cy="165.5" r="3.65" fill="#f1f1f1" stroke="#000" stroke-width="1.6"/>
<circle cx="860.3" cy="176.6" r="3.65" fill="#f1f1f1" stroke="#000" stroke-width="1.6"/>
<circle cx="860.3" cy="187" r="3.65" fill="#f1f1f1" stroke="#000" stroke-width="1.6"/>
<circle cx="860.3" cy="200.5" r="3.65" fill="#f1f1f1" stroke="#000" stroke-width="1.6"/>
<circle cx="860.3" cy="208.3" r="3.65" fill="#f1f1f1" stroke="#000" stroke-width="1.6"/>
<circle cx="876" cy="148.5" r="3.65" fill="#f1f1f1" stroke="#000" stroke-width="1.6"/>
<circle cx="876" cy="157.2" r="3.65" fill="#f1f1f1" stroke="#000" stroke-width="1.6"/>
<circle cx="876" cy="172.2" r="3.65" fill="#f1f1f1" stroke="#000" stroke-width="1.6"/>
<circle cx="876" cy="184.3" r="3.65" fill="#f1f1f1" stroke="#000" stroke-width="1.6"/>
<circle cx="876" cy="204.1" r="3.65" fill="#f1f1f1" stroke="#000" stroke-width="1.6"/>
<circle cx="891.5" cy="141.4" r="3.65" fill="#f1f1f1" stroke="#000" stroke-width="1.6"/>
<circle cx="891.5" cy="153.8" r="3.65" fill="#f1f1f1" stroke="#000" stroke-width="1.6"/>
<circle cx="891.5" cy="162.3" r="3.65" fill="#f1f1f1" stroke="#000" stroke-width="1.6"/>
<circle cx="891.5" cy="170.8" r="3.65" fill="#f1f1f1" stroke="#000" stroke-width="1.6"/>
<circle cx="891.5" cy="178.9" r="3.65" fill="#f1f1f1" stroke="#000" stroke-width="1.6"/>
<circle cx="891.5" cy="199.9" r="3.65" fill="#f1f1f1" stroke="#000" stroke-width="1.6"/>
<circle cx="891.5" cy="210.2" r="3.65" fill="#f1f1f1" stroke="#000" stroke-width="1.6"/>
<line x1="721.3" y1="183.5" x2="762.7" y2="183.5" stroke="#000" stroke-width="2" stroke-linecap="butt"/>
<line x1="721.3" y1="191.3" x2="762.7" y2="191.3" stroke="#000" stroke-width="2" stroke-linecap="butt"/>
<line x1="742" y1="183.5" x2="742" y2="191.3" stroke="#000" stroke-width="2" stroke-linecap="butt"/>
<line x1="839.7" y1="171.1" x2="881.1" y2="171.1" stroke="#000" stroke-width="2" stroke-linecap="butt"/>
<line x1="839.7" y1="179.9" x2="881.1" y2="179.9" stroke="#000" stroke-width="2" stroke-linecap="butt"/>
<line x1="860.4" y1="171.1" x2="860.4" y2="179.9" stroke="#000" stroke-width="2" stroke-linecap="butt"/>
<text class="b" x="742.1" y="337.3" font-size="17.6" text-anchor="middle" stroke="#000" stroke-width="0.3" stroke-linejoin="round">19,15,10</text>
<text class="b" x="860.5" y="337.3" font-size="17.6" text-anchor="middle" fill="#fff" stroke="#fff" stroke-width="0.3" stroke-linejoin="round">27,23,16</text>
<line x1="662.4" y1="81.5" x2="662.4" y2="345" stroke="#000" stroke-width="2.9" stroke-linecap="butt"/>
<line x1="651.5" y1="343.7" x2="939.5" y2="343.7" stroke="#000" stroke-width="2.6" stroke-linecap="butt"/>
<line x1="651.5" y1="343.7" x2="662.4" y2="343.7" stroke="#000" stroke-width="2.6" stroke-linecap="butt"/>
<text class="b" x="647.4" y="350.7" font-size="20" text-anchor="end" stroke="#000" stroke-width="0.3" stroke-linejoin="round">0</text>
<line x1="651.5" y1="278.48" x2="662.4" y2="278.48" stroke="#000" stroke-width="2.6" stroke-linecap="butt"/>
<text class="b" x="647.4" y="285.48" font-size="20" text-anchor="end" stroke="#000" stroke-width="0.3" stroke-linejoin="round">5</text>
<line x1="651.5" y1="213.25" x2="662.4" y2="213.25" stroke="#000" stroke-width="2.6" stroke-linecap="butt"/>
<text class="b" x="647.4" y="220.25" font-size="20" text-anchor="end" stroke="#000" stroke-width="0.3" stroke-linejoin="round">10</text>
<line x1="651.5" y1="148.03" x2="662.4" y2="148.03" stroke="#000" stroke-width="2.6" stroke-linecap="butt"/>
<text class="b" x="647.4" y="155.03" font-size="20" text-anchor="end" stroke="#000" stroke-width="0.3" stroke-linejoin="round">15</text>
<line x1="651.5" y1="82.8" x2="662.4" y2="82.8" stroke="#000" stroke-width="2.6" stroke-linecap="butt"/>
<text class="b" x="647.4" y="89.8" font-size="20" text-anchor="end" stroke="#000" stroke-width="0.3" stroke-linejoin="round">20</text>
<line x1="742" y1="343.7" x2="742" y2="354.2" stroke="#000" stroke-width="2.9" stroke-linecap="butt"/>
<text class="b" x="742" y="377.4" font-size="20" text-anchor="middle" stroke="#000" stroke-width="0.3" stroke-linejoin="round" textLength="58.03" lengthAdjust="spacingAndGlyphs">Saline</text>
<line x1="860.4" y1="343.7" x2="860.4" y2="354.2" stroke="#000" stroke-width="2.9" stroke-linecap="butt"/>
<text class="b" x="860.4" y="377.4" font-size="20" text-anchor="middle" stroke="#000" stroke-width="0.3" stroke-linejoin="round" textLength="76.64" lengthAdjust="spacingAndGlyphs">Cocaine</text>
<text class="b" x="801.5" y="406.3" font-size="20" text-anchor="middle" stroke="#000" stroke-width="0.3" stroke-linejoin="round" textLength="91.48" lengthAdjust="spacingAndGlyphs">Treatment</text>
<text class="b" x="614.6" y="214.25" font-size="20" text-anchor="middle" stroke="#000" stroke-width="0.3" stroke-linejoin="round" transform="rotate(-90 614.6 214.25)" textLength="136.16" lengthAdjust="spacingAndGlyphs">Decay tau (ms)</text>
<path d="M741.8 148V112.2H860.3V128" fill="none" stroke="#000" stroke-width="2.6" stroke-linejoin="miter" stroke-linecap="round"/>
<text class="b" x="799.5" y="106" font-size="27" text-anchor="middle" stroke="#000" stroke-width="0.3" stroke-linejoin="round">*</text>
<rect x="1163.45" y="169.85" width="78.9" height="173.75" fill="#ecedf4" stroke="#000" stroke-width="1.4"/>
<rect x="1284.65" y="159.15" width="78.9" height="184.45" fill="#2a5bad" stroke="#000" stroke-width="1.4"/>
<circle cx="1166.6" cy="150.8" r="3.65" fill="#f1f1f1" stroke="#000" stroke-width="1.6"/>
<circle cx="1166.6" cy="172.3" r="3.65" fill="#f1f1f1" stroke="#000" stroke-width="1.6"/>
<circle cx="1181.1" cy="154.7" r="3.65" fill="#f1f1f1" stroke="#000" stroke-width="1.6"/>
<circle cx="1181.1" cy="173.5" r="3.65" fill="#f1f1f1" stroke="#000" stroke-width="1.6"/>
<circle cx="1181.1" cy="181.8" r="3.65" fill="#f1f1f1" stroke="#000" stroke-width="1.6"/>
<circle cx="1195.5" cy="148.7" r="3.65" fill="#f1f1f1" stroke="#000" stroke-width="1.6"/>
<circle cx="1195.5" cy="188" r="3.65" fill="#f1f1f1" stroke="#000" stroke-width="1.6"/>
<circle cx="1210.3" cy="145.2" r="3.65" fill="#f1f1f1" stroke="#000" stroke-width="1.6"/>
<circle cx="1210.3" cy="155.9" r="3.65" fill="#f1f1f1" stroke="#000" stroke-width="1.6"/>
<circle cx="1210.3" cy="169.7" r="3.65" fill="#f1f1f1" stroke="#000" stroke-width="1.6"/>
<circle cx="1210.3" cy="179.4" r="3.65" fill="#f1f1f1" stroke="#000" stroke-width="1.6"/>
<circle cx="1210.3" cy="189.3" r="3.65" fill="#f1f1f1" stroke="#000" stroke-width="1.6"/>
<circle cx="1224.8" cy="152.3" r="3.65" fill="#f1f1f1" stroke="#000" stroke-width="1.6"/>
<circle cx="1224.8" cy="162.6" r="3.65" fill="#f1f1f1" stroke="#000" stroke-width="1.6"/>
<circle cx="1224.8" cy="176.3" r="3.65" fill="#f1f1f1" stroke="#000" stroke-width="1.6"/>
<circle cx="1224.8" cy="184.8" r="3.65" fill="#f1f1f1" stroke="#000" stroke-width="1.6"/>
<circle cx="1239.4" cy="148.6" r="3.65" fill="#f1f1f1" stroke="#000" stroke-width="1.6"/>
<circle cx="1239.4" cy="173.1" r="3.65" fill="#f1f1f1" stroke="#000" stroke-width="1.6"/>
<circle cx="1202.8" cy="200.8" r="3.65" fill="#f1f1f1" stroke="#000" stroke-width="1.6"/>
<circle cx="1287.4" cy="142.9" r="3.65" fill="#f1f1f1" stroke="#000" stroke-width="1.6"/>
<circle cx="1287.4" cy="162.3" r="3.65" fill="#f1f1f1" stroke="#000" stroke-width="1.6"/>
<circle cx="1299.4" cy="140.3" r="3.65" fill="#f1f1f1" stroke="#000" stroke-width="1.6"/>
<circle cx="1299.4" cy="148.5" r="3.65" fill="#f1f1f1" stroke="#000" stroke-width="1.6"/>
<circle cx="1299.4" cy="171.6" r="3.65" fill="#f1f1f1" stroke="#000" stroke-width="1.6"/>
<circle cx="1311.5" cy="137.9" r="3.65" fill="#f1f1f1" stroke="#000" stroke-width="1.6"/>
<circle cx="1311.5" cy="147.3" r="3.65" fill="#f1f1f1" stroke="#000" stroke-width="1.6"/>
<circle cx="1311.5" cy="155.8" r="3.65" fill="#f1f1f1" stroke="#000" stroke-width="1.6"/>
<circle cx="1311.5" cy="165.9" r="3.65" fill="#f1f1f1" stroke="#000" stroke-width="1.6"/>
<circle cx="1311.5" cy="178.3" r="3.65" fill="#f1f1f1" stroke="#000" stroke-width="1.6"/>
<circle cx="1323.5" cy="136.4" r="3.65" fill="#f1f1f1" stroke="#000" stroke-width="1.6"/>
<circle cx="1323.5" cy="151.4" r="3.65" fill="#f1f1f1" stroke="#000" stroke-width="1.6"/>
<circle cx="1323.5" cy="162.7" r="3.65" fill="#f1f1f1" stroke="#000" stroke-width="1.6"/>
<circle cx="1323.5" cy="179.1" r="3.65" fill="#f1f1f1" stroke="#000" stroke-width="1.6"/>
<circle cx="1335.9" cy="134.6" r="3.65" fill="#f1f1f1" stroke="#000" stroke-width="1.6"/>
<circle cx="1335.9" cy="143.7" r="3.65" fill="#f1f1f1" stroke="#000" stroke-width="1.6"/>
<circle cx="1335.9" cy="151.8" r="3.65" fill="#f1f1f1" stroke="#000" stroke-width="1.6"/>
<circle cx="1335.9" cy="167.1" r="3.65" fill="#f1f1f1" stroke="#000" stroke-width="1.6"/>
<circle cx="1335.9" cy="175.6" r="3.65" fill="#f1f1f1" stroke="#000" stroke-width="1.6"/>
<circle cx="1348" cy="134.6" r="3.65" fill="#f1f1f1" stroke="#000" stroke-width="1.6"/>
<circle cx="1348" cy="149.3" r="3.65" fill="#f1f1f1" stroke="#000" stroke-width="1.6"/>
<circle cx="1348" cy="163.5" r="3.65" fill="#f1f1f1" stroke="#000" stroke-width="1.6"/>
<circle cx="1348" cy="173.6" r="3.65" fill="#f1f1f1" stroke="#000" stroke-width="1.6"/>
<circle cx="1360.2" cy="144.6" r="3.65" fill="#f1f1f1" stroke="#000" stroke-width="1.6"/>
<circle cx="1360.2" cy="162.3" r="3.65" fill="#f1f1f1" stroke="#000" stroke-width="1.6"/>
<circle cx="1329.6" cy="190.4" r="3.65" fill="#f1f1f1" stroke="#000" stroke-width="1.6"/>
<circle cx="1317.5" cy="194.6" r="3.65" fill="#f1f1f1" stroke="#000" stroke-width="1.6"/>
<line x1="1182.1" y1="165" x2="1223.5" y2="165" stroke="#000" stroke-width="2" stroke-linecap="butt"/>
<line x1="1182.1" y1="172.4" x2="1223.5" y2="172.4" stroke="#000" stroke-width="2" stroke-linecap="butt"/>
<line x1="1202.8" y1="165" x2="1202.8" y2="172.4" stroke="#000" stroke-width="2" stroke-linecap="butt"/>
<line x1="1302.9" y1="155" x2="1344.3" y2="155" stroke="#000" stroke-width="2" stroke-linecap="butt"/>
<line x1="1302.9" y1="161.1" x2="1344.3" y2="161.1" stroke="#000" stroke-width="2" stroke-linecap="butt"/>
<line x1="1323.6" y1="155" x2="1323.6" y2="161.1" stroke="#000" stroke-width="2" stroke-linecap="butt"/>
<text class="b" x="1202.9" y="337.2" font-size="17.6" text-anchor="middle" stroke="#000" stroke-width="0.3" stroke-linejoin="round">19,15,10</text>
<text class="b" x="1324.1" y="337.2" font-size="17.6" text-anchor="middle" fill="#fff" stroke="#fff" stroke-width="0.3" stroke-linejoin="round">27,23,16</text>
<line x1="1122.2" y1="81.5" x2="1122.2" y2="344.9" stroke="#000" stroke-width="2.9" stroke-linecap="butt"/>
<line x1="1111.3" y1="343.6" x2="1404.6" y2="343.6" stroke="#000" stroke-width="2.6" stroke-linecap="butt"/>
<line x1="1111.3" y1="343.6" x2="1122.2" y2="343.6" stroke="#000" stroke-width="2.6" stroke-linecap="butt"/>
<text class="b" x="1107.2" y="350.6" font-size="20" text-anchor="end" stroke="#000" stroke-width="0.3" stroke-linejoin="round">0</text>
<line x1="1111.3" y1="291.44" x2="1122.2" y2="291.44" stroke="#000" stroke-width="2.6" stroke-linecap="butt"/>
<text class="b" x="1107.2" y="298.44" font-size="20" text-anchor="end" stroke="#000" stroke-width="0.3" stroke-linejoin="round">5</text>
<line x1="1111.3" y1="239.28" x2="1122.2" y2="239.28" stroke="#000" stroke-width="2.6" stroke-linecap="butt"/>
<text class="b" x="1107.2" y="246.28" font-size="20" text-anchor="end" stroke="#000" stroke-width="0.3" stroke-linejoin="round">10</text>
<line x1="1111.3" y1="187.12" x2="1122.2" y2="187.12" stroke="#000" stroke-width="2.6" stroke-linecap="butt"/>
<text class="b" x="1107.2" y="194.12" font-size="20" text-anchor="end" stroke="#000" stroke-width="0.3" stroke-linejoin="round">15</text>
<line x1="1111.3" y1="134.96" x2="1122.2" y2="134.96" stroke="#000" stroke-width="2.6" stroke-linecap="butt"/>
<text class="b" x="1107.2" y="141.96" font-size="20" text-anchor="end" stroke="#000" stroke-width="0.3" stroke-linejoin="round">20</text>
<line x1="1111.3" y1="82.8" x2="1122.2" y2="82.8" stroke="#000" stroke-width="2.6" stroke-linecap="butt"/>
<text class="b" x="1107.2" y="89.8" font-size="20" text-anchor="end" stroke="#000" stroke-width="0.3" stroke-linejoin="round">25</text>
<line x1="1202.8" y1="343.6" x2="1202.8" y2="354.1" stroke="#000" stroke-width="2.9" stroke-linecap="butt"/>
<text class="b" x="1202.8" y="377.3" font-size="20" text-anchor="middle" stroke="#000" stroke-width="0.3" stroke-linejoin="round" textLength="58.03" lengthAdjust="spacingAndGlyphs">Saline</text>
<line x1="1323.8" y1="343.6" x2="1323.8" y2="354.1" stroke="#000" stroke-width="2.9" stroke-linecap="butt"/>
<text class="b" x="1323.8" y="377.3" font-size="20" text-anchor="middle" stroke="#000" stroke-width="0.3" stroke-linejoin="round" textLength="76.64" lengthAdjust="spacingAndGlyphs">Cocaine</text>
<text class="b" x="1263.5" y="406.2" font-size="20" text-anchor="middle" stroke="#000" stroke-width="0.3" stroke-linejoin="round" textLength="91.48" lengthAdjust="spacingAndGlyphs">Treatment</text>
<text class="b" x="1075" y="214.2" font-size="20" text-anchor="middle" stroke="#000" stroke-width="0.3" stroke-linejoin="round" transform="rotate(-90 1075 214.2)" textLength="135.77" lengthAdjust="spacingAndGlyphs">Half-width (ms)</text>
<path d="M1203 128.4V101.8H1323.7V118.4" fill="none" stroke="#000" stroke-width="2.6" stroke-linejoin="miter" stroke-linecap="round"/>
<text class="b" x="1261" y="100" font-size="27" text-anchor="middle" stroke="#000" stroke-width="0.3" stroke-linejoin="round">*</text>
<rect x="644.45" y="662.35" width="79.3" height="154.25" fill="#ecedf4" stroke="#000" stroke-width="1.4"/>
<rect x="766.65" y="652.15" width="79.7" height="164.45" fill="#b4c2da" stroke="#000" stroke-width="1.4"/>
<rect x="888.95" y="646.85" width="80" height="169.75" fill="#4b79b8" stroke="#000" stroke-width="1.4"/>
<circle cx="647.2" cy="653.5" r="3.65" fill="#f1f1f1" stroke="#000" stroke-width="1.6"/>
<circle cx="647.2" cy="664.9" r="3.65" fill="#f1f1f1" stroke="#000" stroke-width="1.6"/>
<circle cx="661.9" cy="634.6" r="3.65" fill="#f1f1f1" stroke="#000" stroke-width="1.6"/>
<circle cx="661.9" cy="644.1" r="3.65" fill="#f1f1f1" stroke="#000" stroke-width="1.6"/>
<circle cx="661.9" cy="663.1" r="3.65" fill="#f1f1f1" stroke="#000" stroke-width="1.6"/>
<circle cx="661.9" cy="673.2" r="3.65" fill="#f1f1f1" stroke="#000" stroke-width="1.6"/>
<circle cx="676.7" cy="642.7" r="3.65" fill="#f1f1f1" stroke="#000" stroke-width="1.6"/>
<circle cx="676.7" cy="658.2" r="3.65" fill="#f1f1f1" stroke="#000" stroke-width="1.6"/>
<circle cx="676.7" cy="667.5" r="3.65" fill="#f1f1f1" stroke="#000" stroke-width="1.6"/>
<circle cx="676.7" cy="676" r="3.65" fill="#f1f1f1" stroke="#000" stroke-width="1.6"/>
<circle cx="691.5" cy="662.7" r="3.65" fill="#f1f1f1" stroke="#000" stroke-width="1.6"/>
<circle cx="691.5" cy="674.8" r="3.65" fill="#f1f1f1" stroke="#000" stroke-width="1.6"/>
<circle cx="706.3" cy="637.2" r="3.65" fill="#f1f1f1" stroke="#000" stroke-width="1.6"/>
<circle cx="706.3" cy="647.7" r="3.65" fill="#f1f1f1" stroke="#000" stroke-width="1.6"/>
<circle cx="706.3" cy="657.6" r="3.65" fill="#f1f1f1" stroke="#000" stroke-width="1.6"/>
<circle cx="706.3" cy="676.3" r="3.65" fill="#f1f1f1" stroke="#000" stroke-width="1.6"/>
<circle cx="721" cy="658.1" r="3.65" fill="#f1f1f1" stroke="#000" stroke-width="1.6"/>
<circle cx="721" cy="669.6" r="3.65" fill="#f1f1f1" stroke="#000" stroke-width="1.6"/>
<circle cx="684" cy="696.2" r="3.65" fill="#f1f1f1" stroke="#000" stroke-width="1.6"/>
<circle cx="775.3" cy="644" r="3.65" fill="#f1f1f1" stroke="#000" stroke-width="1.6"/>
<circle cx="775.3" cy="683" r="3.65" fill="#f1f1f1" stroke="#000" stroke-width="1.6"/>
<circle cx="791" cy="614.7" r="3.65" fill="#f1f1f1" stroke="#000" stroke-width="1.6"/>
<circle cx="791" cy="626.8" r="3.65" fill="#f1f1f1" stroke="#000" stroke-width="1.6"/>
<circle cx="791" cy="639.6" r="3.65" fill="#f1f1f1" stroke="#000" stroke-width="1.6"/>
<circle cx="791" cy="652.1" r="3.65" fill="#f1f1f1" stroke="#000" stroke-width="1.6"/>
<circle cx="791" cy="675.3" r="3.65" fill="#f1f1f1" stroke="#000" stroke-width="1.6"/>
<circle cx="806.6" cy="614.7" r="3.65" fill="#f1f1f1" stroke="#000" stroke-width="1.6"/>
<circle cx="806.6" cy="645.8" r="3.65" fill="#f1f1f1" stroke="#000" stroke-width="1.6"/>
<circle cx="806.6" cy="657.8" r="3.65" fill="#f1f1f1" stroke="#000" stroke-width="1.6"/>
<circle cx="806.6" cy="681.6" r="3.65" fill="#f1f1f1" stroke="#000" stroke-width="1.6"/>
<circle cx="822.2" cy="621.8" r="3.65" fill="#f1f1f1" stroke="#000" stroke-width="1.6"/>
<circle cx="822.2" cy="641.4" r="3.65" fill="#f1f1f1" stroke="#000" stroke-width="1.6"/>
<circle cx="822.2" cy="654.3" r="3.65" fill="#f1f1f1" stroke="#000" stroke-width="1.6"/>
<circle cx="822.2" cy="677.4" r="3.65" fill="#f1f1f1" stroke="#000" stroke-width="1.6"/>
<circle cx="837.7" cy="683.4" r="3.65" fill="#f1f1f1" stroke="#000" stroke-width="1.6"/>
<circle cx="913.4" cy="625.3" r="3.65" fill="#f1f1f1" stroke="#000" stroke-width="1.6"/>
<circle cx="913.4" cy="635.5" r="3.65" fill="#f1f1f1" stroke="#000" stroke-width="1.6"/>
<circle cx="913.4" cy="673.7" r="3.65" fill="#f1f1f1" stroke="#000" stroke-width="1.6"/>
<circle cx="928.9" cy="618.3" r="3.65" fill="#f1f1f1" stroke="#000" stroke-width="1.6"/>
<circle cx="928.9" cy="630.3" r="3.65" fill="#f1f1f1" stroke="#000" stroke-width="1.6"/>
<circle cx="928.9" cy="638.4" r="3.65" fill="#f1f1f1" stroke="#000" stroke-width="1.6"/>
<circle cx="928.9" cy="652.7" r="3.65" fill="#f1f1f1" stroke="#000" stroke-width="1.6"/>
<circle cx="928.9" cy="667.6" r="3.65" fill="#f1f1f1" stroke="#000" stroke-width="1.6"/>
<circle cx="944.6" cy="627" r="3.65" fill="#f1f1f1" stroke="#000" stroke-width="1.6"/>
<circle cx="944.6" cy="660.2" r="3.65" fill="#f1f1f1" stroke="#000" stroke-width="1.6"/>
<circle cx="944.6" cy="673.3" r="3.65" fill="#f1f1f1" stroke="#000" stroke-width="1.6"/>
<line x1="663.5" y1="657" x2="704.9" y2="657" stroke="#000" stroke-width="2" stroke-linecap="butt"/>
<line x1="663.5" y1="664.5" x2="704.9" y2="664.5" stroke="#000" stroke-width="2" stroke-linecap="butt"/>
<line x1="684.2" y1="657" x2="684.2" y2="664.5" stroke="#000" stroke-width="2" stroke-linecap="butt"/>
<line x1="785.7" y1="645" x2="827.1" y2="645" stroke="#000" stroke-width="2" stroke-linecap="butt"/>
<line x1="785.7" y1="656.7" x2="827.1" y2="656.7" stroke="#000" stroke-width="2" stroke-linecap="butt"/>
<line x1="806.4" y1="645" x2="806.4" y2="656.7" stroke="#000" stroke-width="2" stroke-linecap="butt"/>
<line x1="908.3" y1="639.3" x2="949.7" y2="639.3" stroke="#000" stroke-width="2" stroke-linecap="butt"/>
<line x1="908.3" y1="652" x2="949.7" y2="652" stroke="#000" stroke-width="2" stroke-linecap="butt"/>
<line x1="929" y1="639.3" x2="929" y2="652" stroke="#000" stroke-width="2" stroke-linecap="butt"/>
<text class="b" x="684.1" y="809.8" font-size="17.6" text-anchor="middle" stroke="#000" stroke-width="0.3" stroke-linejoin="round">19,15,10</text>
<text class="b" x="806.5" y="809.8" font-size="17.6" text-anchor="middle" stroke="#000" stroke-width="0.3" stroke-linejoin="round">16,14,10</text>
<text class="b" x="928.95" y="809.8" font-size="17.6" text-anchor="middle" stroke="#000" stroke-width="0.3" stroke-linejoin="round">11,9,6</text>
<line x1="602.6" y1="554.7" x2="602.6" y2="817.9" stroke="#000" stroke-width="2.9" stroke-linecap="butt"/>
<line x1="591.7" y1="816.6" x2="1010.7" y2="816.6" stroke="#000" stroke-width="2.6" stroke-linecap="butt"/>
<line x1="591.7" y1="816.6" x2="602.6" y2="816.6" stroke="#000" stroke-width="2.6" stroke-linecap="butt"/>
<text class="b" x="587.6" y="823.6" font-size="20" text-anchor="end" stroke="#000" stroke-width="0.3" stroke-linejoin="round">0</text>
<line x1="591.7" y1="751.45" x2="602.6" y2="751.45" stroke="#000" stroke-width="2.6" stroke-linecap="butt"/>
<text class="b" x="587.6" y="758.45" font-size="20" text-anchor="end" stroke="#000" stroke-width="0.3" stroke-linejoin="round">5</text>
<line x1="591.7" y1="686.3" x2="602.6" y2="686.3" stroke="#000" stroke-width="2.6" stroke-linecap="butt"/>
<text class="b" x="587.6" y="693.3" font-size="20" text-anchor="end" stroke="#000" stroke-width="0.3" stroke-linejoin="round">10</text>
<line x1="591.7" y1="621.15" x2="602.6" y2="621.15" stroke="#000" stroke-width="2.6" stroke-linecap="butt"/>
<text class="b" x="587.6" y="628.15" font-size="20" text-anchor="end" stroke="#000" stroke-width="0.3" stroke-linejoin="round">15</text>
<line x1="591.7" y1="556" x2="602.6" y2="556" stroke="#000" stroke-width="2.6" stroke-linecap="butt"/>
<text class="b" x="587.6" y="563" font-size="20" text-anchor="end" stroke="#000" stroke-width="0.3" stroke-linejoin="round">20</text>
<line x1="684.2" y1="816.6" x2="684.2" y2="827.1" stroke="#000" stroke-width="2.9" stroke-linecap="butt"/>
<text class="b" x="684.2" y="850.3" font-size="20" text-anchor="middle" stroke="#000" stroke-width="0.3" stroke-linejoin="round" textLength="58.03" lengthAdjust="spacingAndGlyphs">Saline</text>
<line x1="806.3" y1="816.6" x2="806.3" y2="827.1" stroke="#000" stroke-width="2.9" stroke-linecap="butt"/>
<text class="b" x="806.3" y="850.3" font-size="20" text-anchor="middle" stroke="#000" stroke-width="0.3" stroke-linejoin="round" textLength="126.98" lengthAdjust="spacingAndGlyphs">Goal-directed</text>
<line x1="928.8" y1="816.6" x2="928.8" y2="827.1" stroke="#000" stroke-width="2.9" stroke-linecap="butt"/>
<text class="b" x="928.8" y="850.3" font-size="20" text-anchor="middle" stroke="#000" stroke-width="0.3" stroke-linejoin="round" textLength="77.71" lengthAdjust="spacingAndGlyphs">Habitual</text>
<text class="b" x="806.5" y="878.4" font-size="20" text-anchor="middle" stroke="#000" stroke-width="0.3" stroke-linejoin="round" textLength="224.46" lengthAdjust="spacingAndGlyphs">Behavioral classification</text>
<text class="b" x="555.3" y="687.3" font-size="20" text-anchor="middle" stroke="#000" stroke-width="0.3" stroke-linejoin="round" transform="rotate(-90 555.3 687.3)" textLength="136.16" lengthAdjust="spacingAndGlyphs">Decay tau (ms)</text>
<rect x="1163.45" y="643.25" width="78.3" height="173.35" fill="#ecedf4" stroke="#000" stroke-width="1.4"/>
<rect x="1284.05" y="631.95" width="78.3" height="184.65" fill="#b4c2da" stroke="#000" stroke-width="1.4"/>
<rect x="1404.35" y="633.15" width="78.4" height="183.45" fill="#4b79b8" stroke="#000" stroke-width="1.4"/>
<circle cx="1166.6" cy="623.5" r="3.65" fill="#f1f1f1" stroke="#000" stroke-width="1.6"/>
<circle cx="1166.6" cy="645" r="3.65" fill="#f1f1f1" stroke="#000" stroke-width="1.6"/>
<circle cx="1181.1" cy="627.4" r="3.65" fill="#f1f1f1" stroke="#000" stroke-width="1.6"/>
<circle cx="1181.1" cy="646.2" r="3.65" fill="#f1f1f1" stroke="#000" stroke-width="1.6"/>
<circle cx="1181.1" cy="654.5" r="3.65" fill="#f1f1f1" stroke="#000" stroke-width="1.6"/>
<circle cx="1195.5" cy="621.4" r="3.65" fill="#f1f1f1" stroke="#000" stroke-width="1.6"/>
<circle cx="1195.5" cy="660.7" r="3.65" fill="#f1f1f1" stroke="#000" stroke-width="1.6"/>
<circle cx="1210.3" cy="617.9" r="3.65" fill="#f1f1f1" stroke="#000" stroke-width="1.6"/>
<circle cx="1210.3" cy="628.6" r="3.65" fill="#f1f1f1" stroke="#000" stroke-width="1.6"/>
<circle cx="1210.3" cy="642.4" r="3.65" fill="#f1f1f1" stroke="#000" stroke-width="1.6"/>
<circle cx="1210.3" cy="652.1" r="3.65" fill="#f1f1f1" stroke="#000" stroke-width="1.6"/>
<circle cx="1210.3" cy="662" r="3.65" fill="#f1f1f1" stroke="#000" stroke-width="1.6"/>
<circle cx="1224.8" cy="625" r="3.65" fill="#f1f1f1" stroke="#000" stroke-width="1.6"/>
<circle cx="1224.8" cy="635.3" r="3.65" fill="#f1f1f1" stroke="#000" stroke-width="1.6"/>
<circle cx="1224.8" cy="649" r="3.65" fill="#f1f1f1" stroke="#000" stroke-width="1.6"/>
<circle cx="1224.8" cy="657.5" r="3.65" fill="#f1f1f1" stroke="#000" stroke-width="1.6"/>
<circle cx="1239.4" cy="621.3" r="3.65" fill="#f1f1f1" stroke="#000" stroke-width="1.6"/>
<circle cx="1239.4" cy="645.8" r="3.65" fill="#f1f1f1" stroke="#000" stroke-width="1.6"/>
<circle cx="1202.8" cy="673.5" r="3.65" fill="#f1f1f1" stroke="#000" stroke-width="1.6"/>
<circle cx="1291.7" cy="622.4" r="3.65" fill="#f1f1f1" stroke="#000" stroke-width="1.6"/>
<circle cx="1291.7" cy="635.5" r="3.65" fill="#f1f1f1" stroke="#000" stroke-width="1.6"/>
<circle cx="1307.2" cy="609.5" r="3.65" fill="#f1f1f1" stroke="#000" stroke-width="1.6"/>
<circle cx="1307.2" cy="628.5" r="3.65" fill="#f1f1f1" stroke="#000" stroke-width="1.6"/>
<circle cx="1307.2" cy="640.2" r="3.65" fill="#f1f1f1" stroke="#000" stroke-width="1.6"/>
<circle cx="1323" cy="613.5" r="3.65" fill="#f1f1f1" stroke="#000" stroke-width="1.6"/>
<circle cx="1323" cy="624.5" r="3.65" fill="#f1f1f1" stroke="#000" stroke-width="1.6"/>
<circle cx="1323" cy="639" r="3.65" fill="#f1f1f1" stroke="#000" stroke-width="1.6"/>
<circle cx="1323" cy="652.2" r="3.65" fill="#f1f1f1" stroke="#000" stroke-width="1.6"/>
<circle cx="1323" cy="663.7" r="3.65" fill="#f1f1f1" stroke="#000" stroke-width="1.6"/>
<circle cx="1338.6" cy="611.1" r="3.65" fill="#f1f1f1" stroke="#000" stroke-width="1.6"/>
<circle cx="1338.6" cy="636.2" r="3.65" fill="#f1f1f1" stroke="#000" stroke-width="1.6"/>
<circle cx="1338.6" cy="644.7" r="3.65" fill="#f1f1f1" stroke="#000" stroke-width="1.6"/>
<circle cx="1354.1" cy="607.9" r="3.65" fill="#f1f1f1" stroke="#000" stroke-width="1.6"/>
<circle cx="1354.1" cy="624.7" r="3.65" fill="#f1f1f1" stroke="#000" stroke-width="1.6"/>
<circle cx="1354.1" cy="635.8" r="3.65" fill="#f1f1f1" stroke="#000" stroke-width="1.6"/>
<circle cx="1412" cy="620.4" r="3.65" fill="#f1f1f1" stroke="#000" stroke-width="1.6"/>
<circle cx="1427.6" cy="618" r="3.65" fill="#f1f1f1" stroke="#000" stroke-width="1.6"/>
<circle cx="1427.6" cy="646.7" r="3.65" fill="#f1f1f1" stroke="#000" stroke-width="1.6"/>
<circle cx="1443.4" cy="607.9" r="3.65" fill="#f1f1f1" stroke="#000" stroke-width="1.6"/>
<circle cx="1443.4" cy="621.6" r="3.65" fill="#f1f1f1" stroke="#000" stroke-width="1.6"/>
<circle cx="1443.4" cy="635.4" r="3.65" fill="#f1f1f1" stroke="#000" stroke-width="1.6"/>
<circle cx="1443.4" cy="651.4" r="3.65" fill="#f1f1f1" stroke="#000" stroke-width="1.6"/>
<circle cx="1443.4" cy="667.7" r="3.65" fill="#f1f1f1" stroke="#000" stroke-width="1.6"/>
<circle cx="1459" cy="617" r="3.65" fill="#f1f1f1" stroke="#000" stroke-width="1.6"/>
<circle cx="1459" cy="648.6" r="3.65" fill="#f1f1f1" stroke="#000" stroke-width="1.6"/>
<circle cx="1474.5" cy="616.1" r="3.65" fill="#f1f1f1" stroke="#000" stroke-width="1.6"/>
<line x1="1181.9" y1="637.8" x2="1223.3" y2="637.8" stroke="#000" stroke-width="2" stroke-linecap="butt"/>
<line x1="1181.9" y1="645.2" x2="1223.3" y2="645.2" stroke="#000" stroke-width="2" stroke-linecap="butt"/>
<line x1="1202.6" y1="637.8" x2="1202.6" y2="645.2" stroke="#000" stroke-width="2" stroke-linecap="butt"/>
<line x1="1302.3" y1="626.5" x2="1343.7" y2="626.5" stroke="#000" stroke-width="2" stroke-linecap="butt"/>
<line x1="1302.3" y1="634.8" x2="1343.7" y2="634.8" stroke="#000" stroke-width="2" stroke-linecap="butt"/>
<line x1="1323" y1="626.5" x2="1323" y2="634.8" stroke="#000" stroke-width="2" stroke-linecap="butt"/>
<line x1="1422.7" y1="626.1" x2="1464.1" y2="626.1" stroke="#000" stroke-width="2" stroke-linecap="butt"/>
<line x1="1422.7" y1="637.8" x2="1464.1" y2="637.8" stroke="#000" stroke-width="2" stroke-linecap="butt"/>
<line x1="1443.4" y1="626.1" x2="1443.4" y2="637.8" stroke="#000" stroke-width="2" stroke-linecap="butt"/>
<text class="b" x="1202.6" y="809.8" font-size="17.6" text-anchor="middle" stroke="#000" stroke-width="0.3" stroke-linejoin="round">19,15,10</text>
<text class="b" x="1323.2" y="809.8" font-size="17.6" text-anchor="middle" stroke="#000" stroke-width="0.3" stroke-linejoin="round">16,14,10</text>
<text class="b" x="1443.55" y="809.8" font-size="17.6" text-anchor="middle" stroke="#000" stroke-width="0.3" stroke-linejoin="round">11,9,6</text>
<line x1="1122.2" y1="554.7" x2="1122.2" y2="817.9" stroke="#000" stroke-width="2.9" stroke-linecap="butt"/>
<line x1="1111.3" y1="816.6" x2="1524" y2="816.6" stroke="#000" stroke-width="2.6" stroke-linecap="butt"/>
<line x1="1111.3" y1="816.6" x2="1122.2" y2="816.6" stroke="#000" stroke-width="2.6" stroke-linecap="butt"/>
<text class="b" x="1107.2" y="823.6" font-size="20" text-anchor="end" stroke="#000" stroke-width="0.3" stroke-linejoin="round">0</text>
<line x1="1111.3" y1="764.48" x2="1122.2" y2="764.48" stroke="#000" stroke-width="2.6" stroke-linecap="butt"/>
<text class="b" x="1107.2" y="771.48" font-size="20" text-anchor="end" stroke="#000" stroke-width="0.3" stroke-linejoin="round">5</text>
<line x1="1111.3" y1="712.36" x2="1122.2" y2="712.36" stroke="#000" stroke-width="2.6" stroke-linecap="butt"/>
<text class="b" x="1107.2" y="719.36" font-size="20" text-anchor="end" stroke="#000" stroke-width="0.3" stroke-linejoin="round">10</text>
<line x1="1111.3" y1="660.24" x2="1122.2" y2="660.24" stroke="#000" stroke-width="2.6" stroke-linecap="butt"/>
<text class="b" x="1107.2" y="667.24" font-size="20" text-anchor="end" stroke="#000" stroke-width="0.3" stroke-linejoin="round">15</text>
<line x1="1111.3" y1="608.12" x2="1122.2" y2="608.12" stroke="#000" stroke-width="2.6" stroke-linecap="butt"/>
<text class="b" x="1107.2" y="615.12" font-size="20" text-anchor="end" stroke="#000" stroke-width="0.3" stroke-linejoin="round">20</text>
<line x1="1111.3" y1="556" x2="1122.2" y2="556" stroke="#000" stroke-width="2.6" stroke-linecap="butt"/>
<text class="b" x="1107.2" y="563" font-size="20" text-anchor="end" stroke="#000" stroke-width="0.3" stroke-linejoin="round">25</text>
<line x1="1202.3" y1="816.6" x2="1202.3" y2="827.1" stroke="#000" stroke-width="2.9" stroke-linecap="butt"/>
<text class="b" x="1202.3" y="850.3" font-size="20" text-anchor="middle" stroke="#000" stroke-width="0.3" stroke-linejoin="round" textLength="58.03" lengthAdjust="spacingAndGlyphs">Saline</text>
<line x1="1322.8" y1="816.6" x2="1322.8" y2="827.1" stroke="#000" stroke-width="2.9" stroke-linecap="butt"/>
<text class="b" x="1322.8" y="850.3" font-size="20" text-anchor="middle" stroke="#000" stroke-width="0.3" stroke-linejoin="round" textLength="126.98" lengthAdjust="spacingAndGlyphs">Goal-directed</text>
<line x1="1443.4" y1="816.6" x2="1443.4" y2="827.1" stroke="#000" stroke-width="2.9" stroke-linecap="butt"/>
<text class="b" x="1443.4" y="850.3" font-size="20" text-anchor="middle" stroke="#000" stroke-width="0.3" stroke-linejoin="round" textLength="77.71" lengthAdjust="spacingAndGlyphs">Habitual</text>
<text class="b" x="1323" y="878.4" font-size="20" text-anchor="middle" stroke="#000" stroke-width="0.3" stroke-linejoin="round" textLength="224.46" lengthAdjust="spacingAndGlyphs">Behavioral classification</text>
<text class="b" x="1075" y="687.3" font-size="20" text-anchor="middle" stroke="#000" stroke-width="0.3" stroke-linejoin="round" transform="rotate(-90 1075 687.3)" textLength="135.77" lengthAdjust="spacingAndGlyphs">Half-width (ms)</text>
<line x1="123" y1="1016.2" x2="123" y2="1288.5" stroke="#000" stroke-width="2.9" stroke-linecap="butt"/>
<line x1="111.5" y1="1277.5" x2="514.9" y2="1277.5" stroke="#000" stroke-width="2.6" stroke-linecap="butt"/>
<text class="b" x="106.7" y="1284.7" font-size="20" text-anchor="end" stroke="#000" stroke-width="0.3" stroke-linejoin="round">0</text>
<line x1="111.5" y1="1212.5" x2="123" y2="1212.5" stroke="#000" stroke-width="2.6" stroke-linecap="butt"/>
<text class="b" x="106.7" y="1219.7" font-size="20" text-anchor="end" stroke="#000" stroke-width="0.3" stroke-linejoin="round">5</text>
<line x1="111.5" y1="1147.5" x2="123" y2="1147.5" stroke="#000" stroke-width="2.6" stroke-linecap="butt"/>
<text class="b" x="106.7" y="1154.7" font-size="20" text-anchor="end" stroke="#000" stroke-width="0.3" stroke-linejoin="round">10</text>
<line x1="111.5" y1="1082.5" x2="123" y2="1082.5" stroke="#000" stroke-width="2.6" stroke-linecap="butt"/>
<text class="b" x="106.7" y="1089.7" font-size="20" text-anchor="end" stroke="#000" stroke-width="0.3" stroke-linejoin="round">15</text>
<line x1="111.5" y1="1017.5" x2="123" y2="1017.5" stroke="#000" stroke-width="2.6" stroke-linecap="butt"/>
<text class="b" x="106.7" y="1024.7" font-size="20" text-anchor="end" stroke="#000" stroke-width="0.3" stroke-linejoin="round">20</text>
<line x1="123" y1="1277.5" x2="123" y2="1288.5" stroke="#000" stroke-width="2.9" stroke-linecap="butt"/>
<text class="b" x="123" y="1312.1" font-size="20" text-anchor="middle" stroke="#000" stroke-width="0.3" stroke-linejoin="round" textLength="10.96" lengthAdjust="spacingAndGlyphs">0</text>
<line x1="253.25" y1="1277.5" x2="253.25" y2="1288.5" stroke="#000" stroke-width="2.9" stroke-linecap="butt"/>
<text class="b" x="253.25" y="1312.1" font-size="20" text-anchor="middle" stroke="#000" stroke-width="0.3" stroke-linejoin="round" textLength="32.87" lengthAdjust="spacingAndGlyphs">100</text>
<line x1="383.5" y1="1277.5" x2="383.5" y2="1288.5" stroke="#000" stroke-width="2.9" stroke-linecap="butt"/>
<text class="b" x="383.5" y="1312.1" font-size="20" text-anchor="middle" stroke="#000" stroke-width="0.3" stroke-linejoin="round" textLength="32.87" lengthAdjust="spacingAndGlyphs">200</text>
<line x1="513.75" y1="1277.5" x2="513.75" y2="1288.5" stroke="#000" stroke-width="2.9" stroke-linecap="butt"/>
<text class="b" x="513.75" y="1312.1" font-size="20" text-anchor="middle" stroke="#000" stroke-width="0.3" stroke-linejoin="round" textLength="32.87" lengthAdjust="spacingAndGlyphs">300</text>
<text class="b" x="318.5" y="1346.3" font-size="20.5" text-anchor="middle" stroke="#000" stroke-width="0.3" stroke-linejoin="round" textLength="229.58" lengthAdjust="spacingAndGlyphs">Cocaine-seeking score</text>
<text class="b" x="67.9" y="1152.5" font-size="20.5" text-anchor="middle" stroke="#000" stroke-width="0.3" stroke-linejoin="round" transform="rotate(-90 67.9 1152.5)" textLength="145.84" lengthAdjust="spacingAndGlyphs">Decay tau (ms)</text>
<line x1="158.2" y1="1076.4" x2="158.2" y2="1102.5" stroke="#000" stroke-width="1.5" stroke-linecap="butt"/>
<line x1="152.6" y1="1076.4" x2="163.8" y2="1076.4" stroke="#000" stroke-width="1.5" stroke-linecap="butt"/>
<line x1="152.6" y1="1102.5" x2="163.8" y2="1102.5" stroke="#000" stroke-width="1.5" stroke-linecap="butt"/>
<line x1="173.2" y1="1088.4" x2="173.2" y2="1118.4" stroke="#000" stroke-width="1.5" stroke-linecap="butt"/>
<line x1="167.6" y1="1088.4" x2="178.8" y2="1088.4" stroke="#000" stroke-width="1.5" stroke-linecap="butt"/>
<line x1="167.6" y1="1118.4" x2="178.8" y2="1118.4" stroke="#000" stroke-width="1.5" stroke-linecap="butt"/>
<line x1="150.8" y1="1107.3" x2="150.8" y2="1136.6" stroke="#000" stroke-width="1.5" stroke-linecap="butt"/>
<line x1="145.2" y1="1107.3" x2="156.4" y2="1107.3" stroke="#000" stroke-width="1.5" stroke-linecap="butt"/>
<line x1="145.2" y1="1136.6" x2="156.4" y2="1136.6" stroke="#000" stroke-width="1.5" stroke-linecap="butt"/>
<line x1="177.8" y1="1115.5" x2="177.8" y2="1138.9" stroke="#000" stroke-width="1.5" stroke-linecap="butt"/>
<line x1="172.2" y1="1115.5" x2="183.4" y2="1115.5" stroke="#000" stroke-width="1.5" stroke-linecap="butt"/>
<line x1="172.2" y1="1138.9" x2="183.4" y2="1138.9" stroke="#000" stroke-width="1.5" stroke-linecap="butt"/>
<line x1="196.7" y1="1113.2" x2="196.7" y2="1142.9" stroke="#000" stroke-width="1.5" stroke-linecap="butt"/>
<line x1="191.1" y1="1113.2" x2="202.3" y2="1113.2" stroke="#000" stroke-width="1.5" stroke-linecap="butt"/>
<line x1="191.1" y1="1142.9" x2="202.3" y2="1142.9" stroke="#000" stroke-width="1.5" stroke-linecap="butt"/>
<line x1="237.7" y1="1106" x2="237.7" y2="1126" stroke="#000" stroke-width="1.5" stroke-linecap="butt"/>
<line x1="232.1" y1="1106" x2="243.3" y2="1106" stroke="#000" stroke-width="1.5" stroke-linecap="butt"/>
<line x1="232.1" y1="1126" x2="243.3" y2="1126" stroke="#000" stroke-width="1.5" stroke-linecap="butt"/>
<line x1="275" y1="1088.4" x2="275" y2="1121.4" stroke="#000" stroke-width="1.5" stroke-linecap="butt"/>
<line x1="269.4" y1="1088.4" x2="280.6" y2="1088.4" stroke="#000" stroke-width="1.5" stroke-linecap="butt"/>
<line x1="269.4" y1="1121.4" x2="280.6" y2="1121.4" stroke="#000" stroke-width="1.5" stroke-linecap="butt"/>
<line x1="305.1" y1="1079.7" x2="305.1" y2="1096.6" stroke="#000" stroke-width="1.5" stroke-linecap="butt"/>
<line x1="299.5" y1="1079.7" x2="310.7" y2="1079.7" stroke="#000" stroke-width="1.5" stroke-linecap="butt"/>
<line x1="299.5" y1="1096.6" x2="310.7" y2="1096.6" stroke="#000" stroke-width="1.5" stroke-linecap="butt"/>
<line x1="126.4" y1="1117.8" x2="430.2" y2="1093.5" stroke="#000" stroke-width="2.4" stroke-linecap="butt"/>
<circle cx="127.2" cy="1083.3" r="4.55" fill="#4a7dc5" stroke="#000" stroke-width="1.7"/>
<circle cx="158.2" cy="1089.5" r="4.55" fill="#4a7dc5" stroke="#000" stroke-width="1.7"/>
<circle cx="168" cy="1101.2" r="4.55" fill="#4a7dc5" stroke="#000" stroke-width="1.7"/>
<circle cx="173.2" cy="1103.4" r="4.55" fill="#4a7dc5" stroke="#000" stroke-width="1.7"/>
<circle cx="150.8" cy="1122.1" r="4.55" fill="#4a7dc5" stroke="#000" stroke-width="1.7"/>
<circle cx="177.8" cy="1127.1" r="4.55" fill="#4a7dc5" stroke="#000" stroke-width="1.7"/>
<circle cx="178.2" cy="1144.5" r="4.55" fill="#4a7dc5" stroke="#000" stroke-width="1.7"/>
<circle cx="196" cy="1076.1" r="4.55" fill="#4a7dc5" stroke="#000" stroke-width="1.7"/>
<circle cx="196.7" cy="1128.2" r="4.55" fill="#4a7dc5" stroke="#000" stroke-width="1.7"/>
<circle cx="220.5" cy="1105.4" r="4.55" fill="#4a7dc5" stroke="#000" stroke-width="1.7"/>
<circle cx="236.2" cy="1132.1" r="4.55" fill="#4a7dc5" stroke="#000" stroke-width="1.7"/>
<circle cx="237.7" cy="1116.1" r="4.55" fill="#4a7dc5" stroke="#000" stroke-width="1.7"/>
<circle cx="275" cy="1105.1" r="4.55" fill="#4a7dc5" stroke="#000" stroke-width="1.7"/>
<circle cx="305.1" cy="1088.2" r="4.55" fill="#4a7dc5" stroke="#000" stroke-width="1.7"/>
<circle cx="426.6" cy="1086.5" r="4.55" fill="#4a7dc5" stroke="#000" stroke-width="1.7"/>
<circle cx="435.4" cy="1091.4" r="4.55" fill="#4a7dc5" stroke="#000" stroke-width="1.7"/>
</svg></body></html>
